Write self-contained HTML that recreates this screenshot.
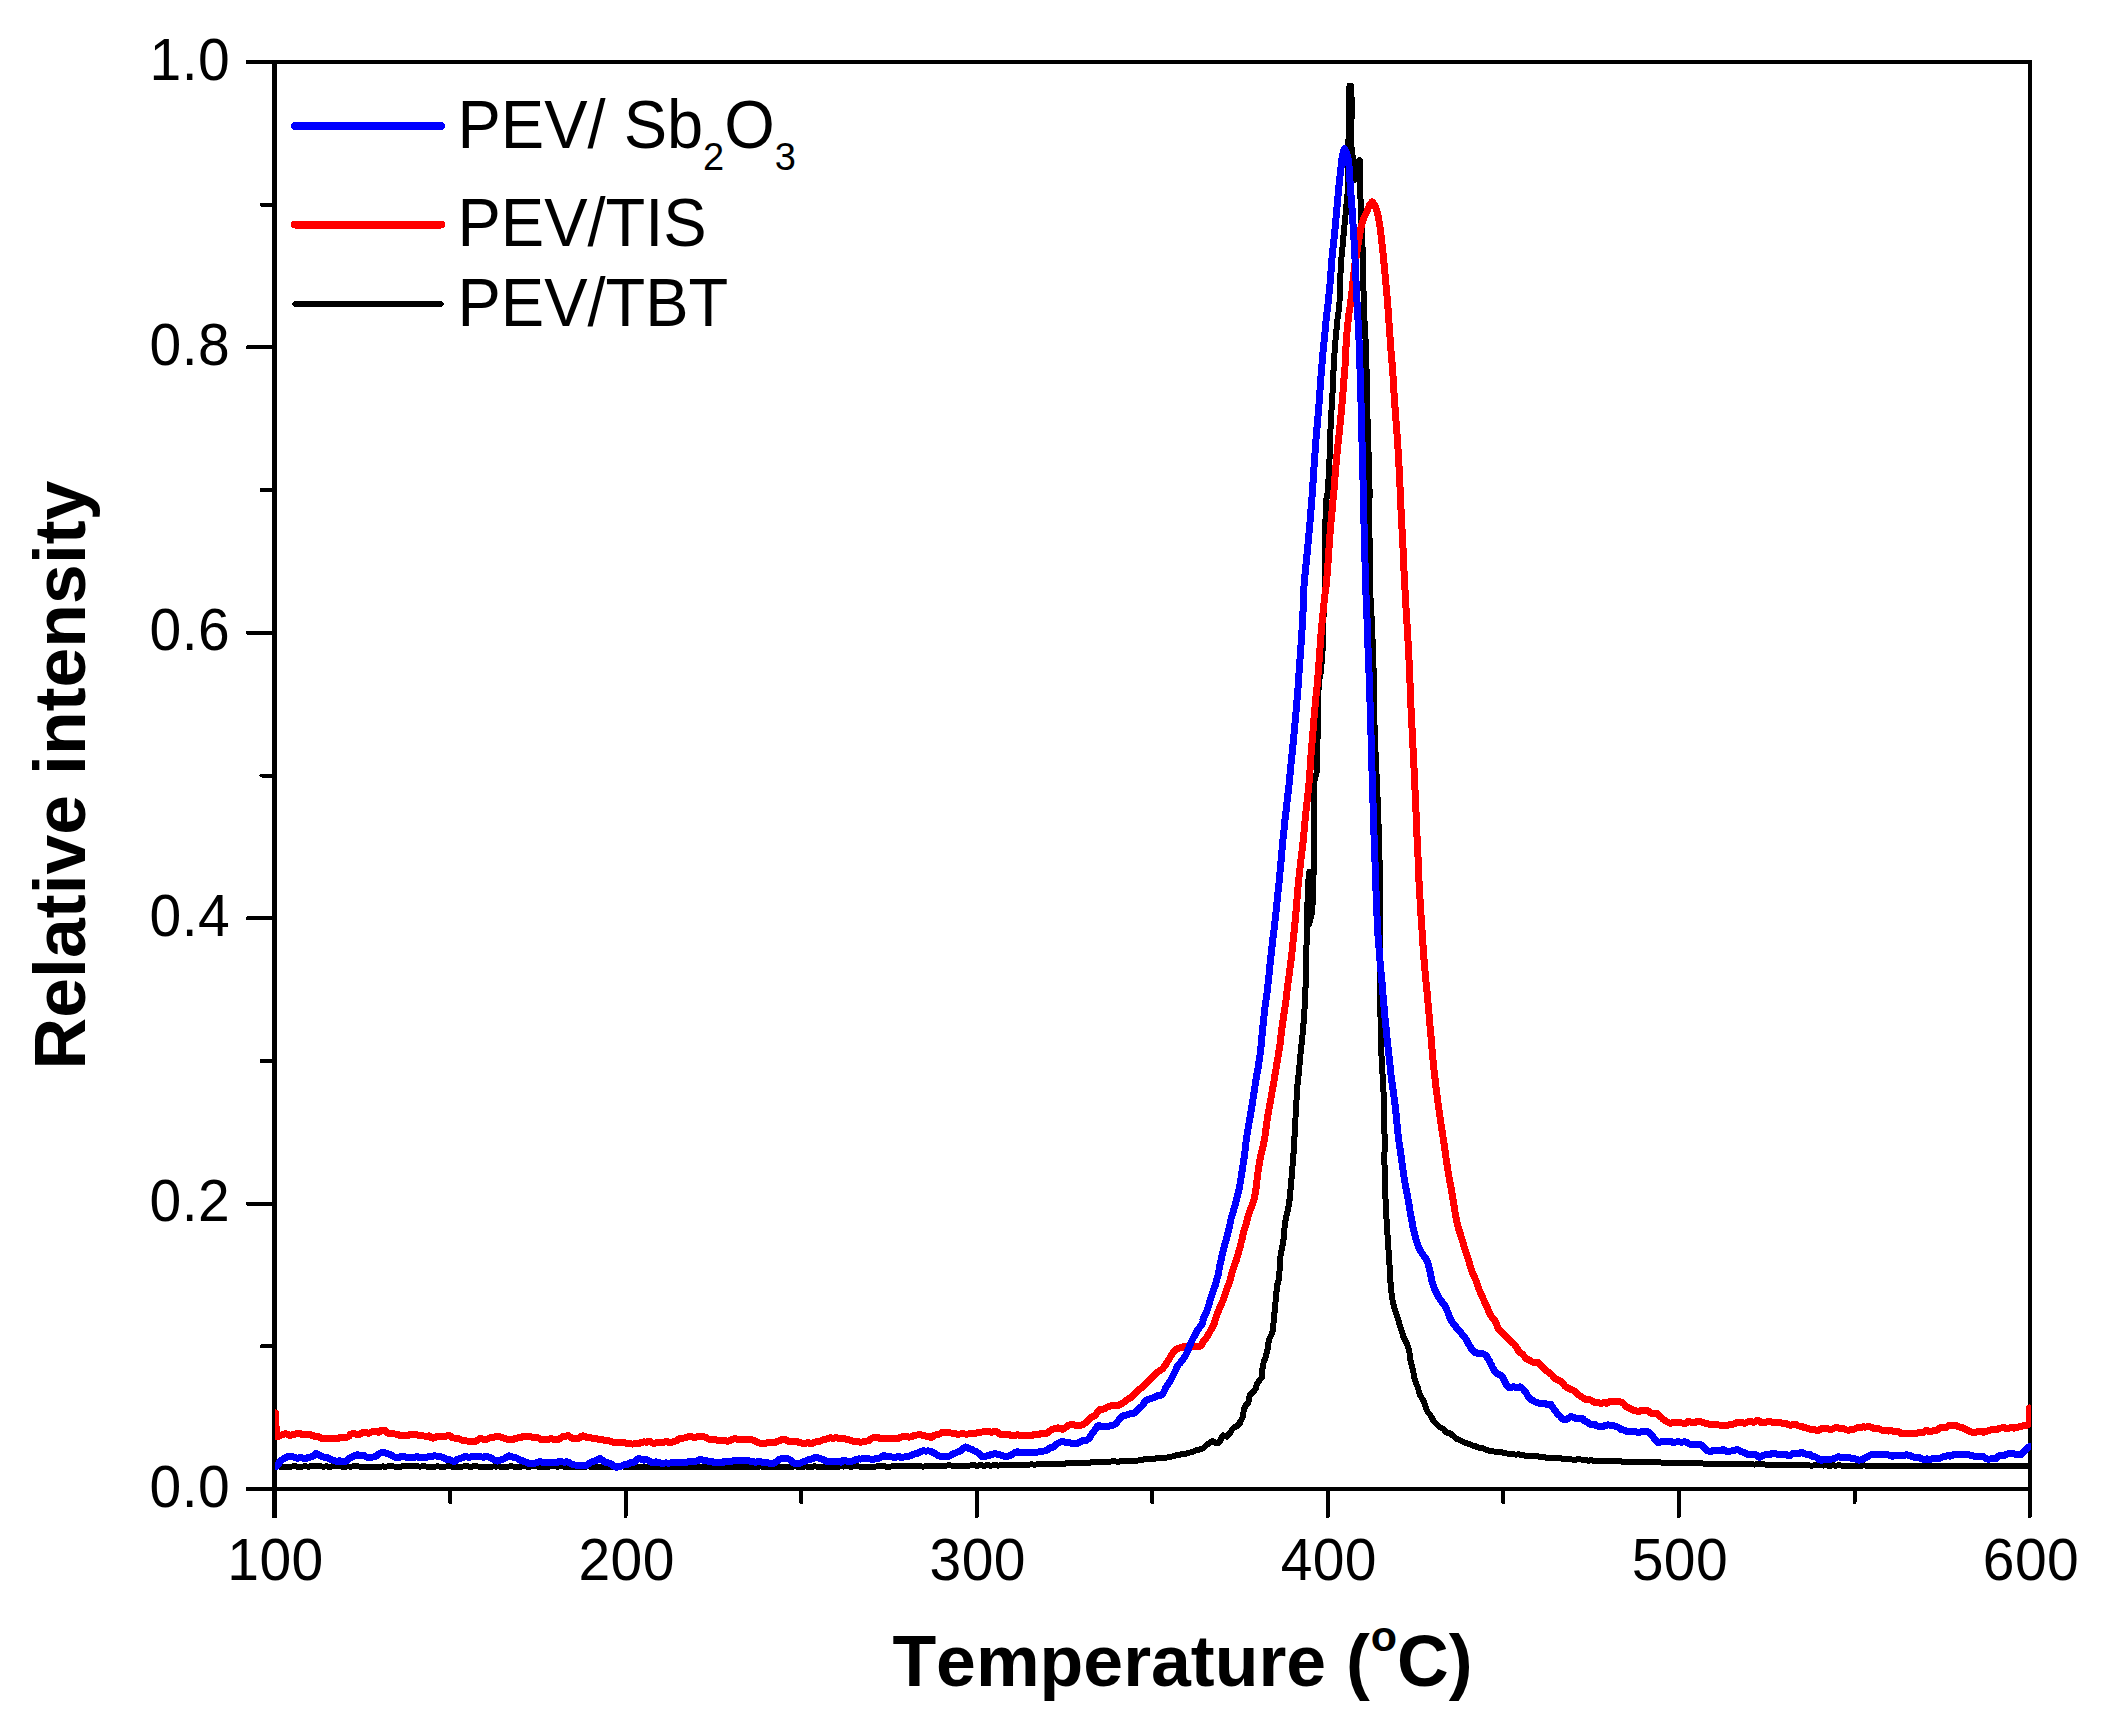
<!DOCTYPE html>
<html lang="en"><head><meta charset="utf-8"><title>Relative intensity vs Temperature</title>
<style>
html,body{margin:0;padding:0;background:#fff;}
body{width:2108px;height:1728px;overflow:hidden;}
svg{display:block;}
</style></head><body>
<svg width="2108" height="1728" viewBox="0 0 2108 1728">
<rect width="2108" height="1728" fill="#fff"/>
<g stroke="#000" stroke-width="4.0" fill="none" stroke-linecap="round" shape-rendering="crispEdges">
<path stroke-width="5" d="M274.5,62.0 V1516.0"/>
<path d="M2030.0,62.0 V1516.0"/>
<path d="M247.5,62.0 H2030.0"/>
<path d="M247.5,1489.0 H2030.0"/>
<path d="M450.1,1489.0 V1502.0"/>
<path d="M625.6,1489.0 V1516.0"/>
<path d="M801.1,1489.0 V1502.0"/>
<path d="M976.7,1489.0 V1516.0"/>
<path d="M1152.2,1489.0 V1502.0"/>
<path d="M1327.8,1489.0 V1516.0"/>
<path d="M1503.3,1489.0 V1502.0"/>
<path d="M1678.9,1489.0 V1516.0"/>
<path d="M1854.5,1489.0 V1502.0"/>
<path d="M274.5,1346.3 H261.5"/>
<path d="M274.5,1203.6 H247.5"/>
<path d="M274.5,1060.9 H261.5"/>
<path d="M274.5,918.2 H247.5"/>
<path d="M274.5,775.5 H261.5"/>
<path d="M274.5,632.8 H247.5"/>
<path d="M274.5,490.1 H261.5"/>
<path d="M274.5,347.4 H247.5"/>
<path d="M274.5,204.7 H261.5"/>
</g>
<clipPath id="plotclip"><rect x="275" y="64" width="1756" height="1423"/></clipPath>
<g fill="none" stroke-linejoin="round" stroke-linecap="round" shape-rendering="crispEdges" clip-path="url(#plotclip)">
<path stroke="#000" stroke-width="6" d="M276.0,1466.4 L277.0,1466.4 L278.0,1466.4 L279.0,1466.4 L280.0,1466.6 L281.0,1466.7 L282.0,1466.8 L283.0,1466.7 L284.0,1466.7 L285.0,1466.7 L286.0,1466.7 L287.0,1466.6 L288.0,1466.5 L289.0,1466.5 L290.0,1466.5 L291.0,1466.6 L292.0,1466.5 L293.0,1466.3 L294.0,1466.2 L295.0,1466.2 L296.0,1466.4 L297.0,1466.6 L298.0,1466.8 L299.0,1466.7 L300.0,1466.7 L301.0,1466.6 L302.0,1466.6 L303.0,1466.5 L304.0,1466.3 L305.0,1466.2 L306.0,1466.3 L307.0,1466.5 L308.0,1466.6 L309.0,1466.6 L310.0,1466.4 L311.0,1466.1 L312.0,1466.0 L313.0,1466.0 L314.0,1466.0 L315.0,1466.0 L316.0,1465.9 L317.0,1466.0 L318.0,1466.2 L319.0,1466.4 L320.0,1466.4 L321.0,1466.4 L322.0,1466.5 L323.0,1466.5 L324.0,1466.6 L325.0,1466.5 L326.0,1466.4 L327.0,1466.4 L328.0,1466.7 L329.0,1466.7 L330.0,1466.8 L331.0,1466.6 L332.0,1466.4 L333.0,1466.4 L334.0,1466.4 L335.0,1466.5 L336.0,1466.4 L337.0,1466.5 L338.0,1466.4 L339.0,1466.5 L340.0,1466.4 L341.0,1466.5 L342.0,1466.6 L343.0,1466.7 L344.0,1466.8 L345.0,1466.7 L346.0,1466.6 L347.0,1466.4 L348.0,1466.4 L349.0,1466.5 L350.0,1466.7 L351.0,1466.7 L352.0,1466.5 L353.0,1466.3 L354.0,1466.2 L355.0,1466.2 L356.0,1466.4 L357.0,1466.4 L358.0,1466.4 L359.0,1466.5 L360.0,1466.6 L361.0,1466.6 L362.0,1466.6 L363.0,1466.6 L364.0,1466.6 L365.0,1466.6 L366.0,1466.6 L367.0,1466.7 L368.0,1466.6 L369.0,1466.6 L370.0,1466.6 L371.0,1466.7 L372.0,1466.6 L373.0,1466.6 L374.0,1466.6 L375.0,1466.6 L376.0,1466.6 L377.0,1466.5 L378.0,1466.5 L379.0,1466.6 L380.0,1466.7 L381.0,1466.7 L382.0,1466.5 L383.0,1466.4 L384.0,1466.6 L385.0,1466.6 L386.0,1466.7 L387.0,1466.5 L388.0,1466.4 L389.0,1466.3 L390.0,1466.2 L391.0,1466.2 L392.0,1466.2 L393.0,1466.4 L394.0,1466.5 L395.0,1466.6 L396.0,1466.5 L397.0,1466.5 L398.0,1466.6 L399.0,1466.6 L400.0,1466.7 L401.0,1466.6 L402.0,1466.4 L403.0,1466.4 L404.0,1466.4 L405.0,1466.4 L406.0,1466.5 L407.0,1466.4 L408.0,1466.4 L409.0,1466.4 L410.0,1466.3 L411.0,1466.3 L412.0,1466.2 L413.0,1466.2 L414.0,1466.2 L415.0,1466.2 L416.0,1466.2 L417.0,1466.4 L418.0,1466.4 L419.0,1466.5 L420.0,1466.5 L421.0,1466.5 L422.0,1466.4 L423.0,1466.3 L424.0,1466.3 L425.0,1466.4 L426.0,1466.5 L427.0,1466.6 L428.0,1466.7 L429.0,1466.7 L430.0,1466.8 L431.0,1466.9 L432.0,1467.0 L433.0,1466.8 L434.0,1466.8 L435.0,1466.6 L436.0,1466.5 L437.0,1466.4 L438.0,1466.4 L439.0,1466.5 L440.0,1466.6 L441.0,1466.7 L442.0,1466.8 L443.0,1466.8 L444.0,1466.7 L445.0,1466.6 L446.0,1466.5 L447.0,1466.4 L448.0,1466.2 L449.0,1466.1 L450.0,1466.3 L451.0,1466.5 L452.0,1466.6 L453.0,1466.7 L454.0,1466.6 L455.0,1466.8 L456.0,1467.0 L457.0,1467.2 L458.0,1467.0 L459.0,1466.9 L460.0,1466.7 L461.0,1466.8 L462.0,1466.6 L463.0,1466.5 L464.0,1466.4 L465.0,1466.3 L466.0,1466.2 L467.0,1466.3 L468.0,1466.4 L469.0,1466.7 L470.0,1466.8 L471.0,1466.7 L472.0,1466.6 L473.0,1466.4 L474.0,1466.3 L475.0,1466.2 L476.0,1466.3 L477.0,1466.4 L478.0,1466.5 L479.0,1466.5 L480.0,1466.5 L481.0,1466.5 L482.0,1466.7 L483.0,1466.9 L484.0,1467.0 L485.0,1466.9 L486.0,1466.8 L487.0,1466.7 L488.0,1466.8 L489.0,1466.9 L490.0,1466.9 L491.0,1466.9 L492.0,1466.6 L493.0,1466.5 L494.0,1466.4 L495.0,1466.5 L496.0,1466.5 L497.0,1466.5 L498.0,1466.4 L499.0,1466.5 L500.0,1466.6 L501.0,1466.8 L502.0,1466.8 L503.0,1466.8 L504.0,1466.6 L505.0,1466.6 L506.0,1466.7 L507.0,1466.8 L508.0,1466.7 L509.0,1466.5 L510.0,1466.2 L511.0,1466.3 L512.0,1466.3 L513.0,1466.5 L514.0,1466.6 L515.0,1466.7 L516.0,1466.6 L517.0,1466.5 L518.0,1466.6 L519.0,1466.6 L520.0,1466.7 L521.0,1466.6 L522.0,1466.4 L523.0,1466.2 L524.0,1466.2 L525.0,1466.3 L526.0,1466.5 L527.0,1466.7 L528.0,1466.7 L529.0,1466.7 L530.0,1466.6 L531.0,1466.5 L532.0,1466.4 L533.0,1466.3 L534.0,1466.1 L535.0,1466.2 L536.0,1466.4 L537.0,1466.5 L538.0,1466.5 L539.0,1466.5 L540.0,1466.6 L541.0,1466.6 L542.0,1466.6 L543.0,1466.7 L544.0,1466.7 L545.0,1466.6 L546.0,1466.5 L547.0,1466.5 L548.0,1466.6 L549.0,1466.6 L550.0,1466.5 L551.0,1466.3 L552.0,1466.3 L553.0,1466.3 L554.0,1466.3 L555.0,1466.3 L556.0,1466.5 L557.0,1466.7 L558.0,1466.7 L559.0,1466.5 L560.0,1466.4 L561.0,1466.3 L562.0,1466.4 L563.0,1466.5 L564.0,1466.6 L565.0,1466.8 L566.0,1466.8 L567.0,1466.7 L568.0,1466.5 L569.0,1466.5 L570.0,1466.6 L571.0,1466.7 L572.0,1466.8 L573.0,1466.8 L574.0,1466.8 L575.0,1466.5 L576.0,1466.5 L577.0,1466.5 L578.0,1466.7 L579.0,1466.7 L580.0,1466.6 L581.0,1466.5 L582.0,1466.5 L583.0,1466.6 L584.0,1466.7 L585.0,1466.8 L586.0,1466.7 L587.0,1466.5 L588.0,1466.4 L589.0,1466.5 L590.0,1466.6 L591.0,1466.8 L592.0,1466.9 L593.0,1467.0 L594.0,1467.1 L595.0,1467.2 L596.0,1467.2 L597.0,1467.0 L598.0,1466.8 L599.0,1466.5 L600.0,1466.6 L601.0,1466.7 L602.0,1466.9 L603.0,1467.0 L604.0,1466.9 L605.0,1466.8 L606.0,1466.6 L607.0,1466.6 L608.0,1466.7 L609.0,1466.7 L610.0,1466.8 L611.0,1466.9 L612.0,1467.1 L613.0,1467.2 L614.0,1467.2 L615.0,1467.0 L616.0,1466.7 L617.0,1466.5 L618.0,1466.3 L619.0,1466.3 L620.0,1466.2 L621.0,1466.2 L622.0,1466.3 L623.0,1466.5 L624.0,1466.7 L625.0,1466.7 L626.0,1466.7 L627.0,1466.7 L628.0,1466.7 L629.0,1466.7 L630.0,1466.7 L631.0,1466.7 L632.0,1466.7 L633.0,1466.8 L634.0,1467.0 L635.0,1467.1 L636.0,1467.0 L637.0,1466.8 L638.0,1466.6 L639.0,1466.5 L640.0,1466.5 L641.0,1466.5 L642.0,1466.5 L643.0,1466.6 L644.0,1466.6 L645.0,1466.7 L646.0,1466.8 L647.0,1466.8 L648.0,1466.9 L649.0,1466.8 L650.0,1466.8 L651.0,1466.8 L652.0,1467.0 L653.0,1467.1 L654.0,1467.1 L655.0,1467.0 L656.0,1467.0 L657.0,1467.1 L658.0,1467.0 L659.0,1466.9 L660.0,1466.9 L661.0,1466.9 L662.0,1467.2 L663.0,1467.3 L664.0,1467.4 L665.0,1467.3 L666.0,1467.2 L667.0,1467.1 L668.0,1467.1 L669.0,1467.1 L670.0,1467.0 L671.0,1466.8 L672.0,1466.8 L673.0,1466.9 L674.0,1467.0 L675.0,1467.0 L676.0,1467.1 L677.0,1467.1 L678.0,1467.0 L679.0,1466.7 L680.0,1466.6 L681.0,1466.8 L682.0,1467.1 L683.0,1467.3 L684.0,1467.3 L685.0,1467.1 L686.0,1466.8 L687.0,1466.6 L688.0,1466.6 L689.0,1466.7 L690.0,1466.9 L691.0,1466.9 L692.0,1467.0 L693.0,1467.0 L694.0,1466.8 L695.0,1466.8 L696.0,1466.8 L697.0,1466.9 L698.0,1466.8 L699.0,1466.9 L700.0,1466.8 L701.0,1466.8 L702.0,1466.8 L703.0,1466.8 L704.0,1466.8 L705.0,1466.9 L706.0,1467.0 L707.0,1467.1 L708.0,1467.0 L709.0,1466.8 L710.0,1466.6 L711.0,1466.5 L712.0,1466.5 L713.0,1466.6 L714.0,1466.7 L715.0,1466.7 L716.0,1466.7 L717.0,1466.8 L718.0,1466.8 L719.0,1466.9 L720.0,1466.8 L721.0,1466.8 L722.0,1466.8 L723.0,1466.8 L724.0,1466.7 L725.0,1466.8 L726.0,1466.7 L727.0,1466.8 L728.0,1466.9 L729.0,1467.2 L730.0,1467.2 L731.0,1467.2 L732.0,1467.0 L733.0,1467.0 L734.0,1467.0 L735.0,1467.0 L736.0,1467.1 L737.0,1467.0 L738.0,1466.9 L739.0,1466.8 L740.0,1466.9 L741.0,1467.1 L742.0,1467.1 L743.0,1467.1 L744.0,1466.9 L745.0,1466.7 L746.0,1466.6 L747.0,1466.6 L748.0,1466.6 L749.0,1466.6 L750.0,1466.6 L751.0,1466.7 L752.0,1466.8 L753.0,1466.9 L754.0,1466.9 L755.0,1466.9 L756.0,1467.0 L757.0,1467.0 L758.0,1466.8 L759.0,1466.6 L760.0,1466.4 L761.0,1466.5 L762.0,1466.8 L763.0,1467.1 L764.0,1467.2 L765.0,1467.1 L766.0,1466.9 L767.0,1466.7 L768.0,1466.5 L769.0,1466.6 L770.0,1466.6 L771.0,1466.9 L772.0,1467.1 L773.0,1467.2 L774.0,1467.0 L775.0,1466.8 L776.0,1466.6 L777.0,1466.7 L778.0,1467.0 L779.0,1467.1 L780.0,1467.2 L781.0,1467.1 L782.0,1467.0 L783.0,1467.0 L784.0,1467.0 L785.0,1467.0 L786.0,1466.9 L787.0,1466.9 L788.0,1466.8 L789.0,1466.9 L790.0,1466.8 L791.0,1466.7 L792.0,1466.6 L793.0,1466.6 L794.0,1466.5 L795.0,1466.4 L796.0,1466.5 L797.0,1466.6 L798.0,1466.7 L799.0,1466.6 L800.0,1466.6 L801.0,1466.7 L802.0,1466.8 L803.0,1466.8 L804.0,1466.6 L805.0,1466.4 L806.0,1466.5 L807.0,1466.6 L808.0,1466.7 L809.0,1466.7 L810.0,1466.7 L811.0,1466.8 L812.0,1466.8 L813.0,1466.6 L814.0,1466.3 L815.0,1466.3 L816.0,1466.5 L817.0,1466.8 L818.0,1466.8 L819.0,1466.7 L820.0,1466.6 L821.0,1466.6 L822.0,1466.7 L823.0,1466.8 L824.0,1467.0 L825.0,1467.0 L826.0,1466.9 L827.0,1466.8 L828.0,1466.7 L829.0,1466.6 L830.0,1466.6 L831.0,1466.6 L832.0,1466.7 L833.0,1466.8 L834.0,1466.9 L835.0,1466.9 L836.0,1466.7 L837.0,1466.6 L838.0,1466.5 L839.0,1466.5 L840.0,1466.5 L841.0,1466.4 L842.0,1466.4 L843.0,1466.5 L844.0,1466.5 L845.0,1466.4 L846.0,1466.3 L847.0,1466.2 L848.0,1466.3 L849.0,1466.5 L850.0,1466.6 L851.0,1466.6 L852.0,1466.6 L853.0,1466.5 L854.0,1466.4 L855.0,1466.3 L856.0,1466.3 L857.0,1466.3 L858.0,1466.4 L859.0,1466.5 L860.0,1466.6 L861.0,1466.5 L862.0,1466.6 L863.0,1466.5 L864.0,1466.7 L865.0,1466.7 L866.0,1466.8 L867.0,1466.8 L868.0,1466.8 L869.0,1466.6 L870.0,1466.5 L871.0,1466.5 L872.0,1466.6 L873.0,1466.7 L874.0,1466.7 L875.0,1466.6 L876.0,1466.5 L877.0,1466.4 L878.0,1466.2 L879.0,1466.1 L880.0,1465.9 L881.0,1466.0 L882.0,1466.0 L883.0,1466.0 L884.0,1466.1 L885.0,1466.4 L886.0,1466.6 L887.0,1466.7 L888.0,1466.7 L889.0,1466.6 L890.0,1466.6 L891.0,1466.5 L892.0,1466.4 L893.0,1466.2 L894.0,1466.3 L895.0,1466.4 L896.0,1466.5 L897.0,1466.4 L898.0,1466.3 L899.0,1466.3 L900.0,1466.2 L901.0,1466.2 L902.0,1466.2 L903.0,1466.2 L904.0,1466.0 L905.0,1465.8 L906.0,1465.8 L907.0,1466.0 L908.0,1466.1 L909.0,1466.0 L910.0,1466.0 L911.0,1466.1 L912.0,1466.2 L913.0,1466.1 L914.0,1466.1 L915.0,1466.1 L916.0,1466.3 L917.0,1466.2 L918.0,1466.2 L919.0,1466.0 L920.0,1466.1 L921.0,1466.3 L922.0,1466.5 L923.0,1466.5 L924.0,1466.5 L925.0,1466.4 L926.0,1466.3 L927.0,1466.2 L928.0,1466.0 L929.0,1465.8 L930.0,1465.6 L931.0,1465.7 L932.0,1465.9 L933.0,1466.1 L934.0,1466.1 L935.0,1466.2 L936.0,1466.2 L937.0,1466.4 L938.0,1466.4 L939.0,1466.4 L940.0,1466.2 L941.0,1466.0 L942.0,1465.8 L943.0,1465.7 L944.0,1465.8 L945.0,1465.8 L946.0,1465.8 L947.0,1465.5 L948.0,1465.2 L949.0,1465.1 L950.0,1465.3 L951.0,1465.5 L952.0,1465.7 L953.0,1465.7 L954.0,1465.8 L955.0,1465.9 L956.0,1466.0 L957.0,1465.9 L958.0,1465.8 L959.0,1465.7 L960.0,1465.7 L961.0,1465.8 L962.0,1465.8 L963.0,1465.7 L964.0,1465.6 L965.0,1465.6 L966.0,1465.7 L967.0,1465.8 L968.0,1465.8 L969.0,1465.7 L970.0,1465.5 L971.0,1465.4 L972.0,1465.4 L973.0,1465.3 L974.0,1465.4 L975.0,1465.4 L976.0,1465.6 L977.0,1465.6 L978.0,1465.6 L979.0,1465.4 L980.0,1465.2 L981.0,1465.3 L982.0,1465.4 L983.0,1465.6 L984.0,1465.7 L985.0,1465.6 L986.0,1465.4 L987.0,1465.2 L988.0,1465.3 L989.0,1465.4 L990.0,1465.6 L991.0,1465.6 L992.0,1465.5 L993.0,1465.3 L994.0,1465.2 L995.0,1465.1 L996.0,1465.3 L997.0,1465.4 L998.0,1465.6 L999.0,1465.5 L1000.0,1465.3 L1001.0,1465.0 L1002.0,1465.0 L1003.0,1465.1 L1004.0,1465.3 L1005.0,1465.4 L1006.0,1465.1 L1007.0,1464.9 L1008.0,1464.7 L1009.0,1464.9 L1010.0,1465.0 L1011.0,1465.1 L1012.0,1465.0 L1013.0,1464.8 L1014.0,1464.8 L1015.0,1464.9 L1016.0,1465.0 L1017.0,1464.8 L1018.0,1464.8 L1019.0,1464.8 L1020.0,1464.8 L1021.0,1464.7 L1022.0,1464.7 L1023.0,1464.7 L1024.0,1464.7 L1025.0,1464.6 L1026.0,1464.6 L1027.0,1464.7 L1028.0,1464.8 L1029.0,1464.6 L1030.0,1464.5 L1031.0,1464.3 L1032.0,1464.4 L1033.0,1464.5 L1034.0,1464.5 L1035.0,1464.5 L1036.0,1464.5 L1037.0,1464.4 L1038.0,1464.3 L1039.0,1464.2 L1040.0,1464.2 L1041.0,1464.2 L1042.0,1464.2 L1043.0,1464.2 L1044.0,1464.1 L1045.0,1464.1 L1046.0,1464.0 L1047.0,1464.1 L1048.0,1464.0 L1049.0,1464.0 L1050.0,1463.8 L1051.0,1463.8 L1052.0,1463.8 L1053.0,1464.0 L1054.0,1463.9 L1055.0,1463.8 L1056.0,1463.7 L1057.0,1463.8 L1058.0,1463.8 L1059.0,1463.8 L1060.0,1463.7 L1061.0,1463.7 L1062.0,1463.8 L1063.0,1463.8 L1064.0,1463.7 L1065.0,1463.6 L1066.0,1463.4 L1067.0,1463.4 L1068.0,1463.3 L1069.0,1463.0 L1070.0,1462.8 L1071.0,1462.9 L1072.0,1463.0 L1073.0,1463.2 L1074.0,1463.3 L1075.0,1463.2 L1076.0,1463.1 L1077.0,1463.1 L1078.0,1463.1 L1079.0,1463.0 L1080.0,1462.8 L1081.0,1462.6 L1082.0,1462.6 L1083.0,1462.7 L1084.0,1462.6 L1085.0,1462.5 L1086.0,1462.6 L1087.0,1462.7 L1088.0,1462.9 L1089.0,1462.8 L1090.0,1462.6 L1091.0,1462.3 L1092.0,1462.3 L1093.0,1462.3 L1094.0,1462.4 L1095.0,1462.3 L1096.0,1462.2 L1097.0,1462.0 L1098.0,1462.0 L1099.0,1462.0 L1100.0,1462.0 L1101.0,1462.0 L1102.0,1462.0 L1103.0,1462.0 L1104.0,1462.0 L1105.0,1462.0 L1105.5,1462.1 L1106.0,1462.0 L1107.0,1461.9 L1108.0,1461.7 L1109.0,1461.7 L1110.0,1461.5 L1111.0,1461.5 L1112.0,1461.4 L1113.0,1461.3 L1114.0,1461.3 L1115.0,1461.3 L1116.0,1461.5 L1117.0,1461.6 L1118.0,1461.5 L1119.0,1461.6 L1120.0,1461.4 L1121.0,1461.3 L1122.0,1461.1 L1123.0,1461.1 L1124.0,1461.0 L1125.0,1461.1 L1126.0,1461.1 L1127.0,1461.1 L1128.0,1461.0 L1129.0,1460.9 L1130.0,1460.7 L1131.0,1460.6 L1132.0,1460.6 L1133.0,1460.8 L1134.0,1460.8 L1135.0,1460.7 L1135.9,1460.5 L1136.0,1460.6 L1137.0,1460.6 L1138.0,1460.5 L1139.0,1460.2 L1140.0,1460.1 L1141.0,1459.9 L1142.0,1459.8 L1143.0,1459.6 L1144.0,1459.4 L1145.0,1459.3 L1146.0,1459.1 L1147.0,1459.0 L1148.0,1459.1 L1149.0,1459.1 L1150.0,1459.3 L1151.0,1459.2 L1152.0,1459.1 L1153.0,1458.9 L1154.0,1458.9 L1155.0,1458.8 L1156.0,1458.5 L1156.9,1457.9 L1157.9,1457.6 L1158.9,1457.7 L1160.0,1458.0 L1161.0,1458.0 L1162.0,1457.9 L1163.0,1457.7 L1164.0,1457.7 L1165.0,1457.6 L1166.0,1457.6 L1166.3,1457.5 L1167.1,1457.5 L1168.0,1457.3 L1169.0,1457.1 L1170.0,1456.8 L1171.0,1456.6 L1172.0,1456.5 L1173.0,1456.3 L1174.0,1456.0 L1175.0,1455.6 L1176.0,1455.4 L1177.0,1455.1 L1178.0,1455.0 L1179.0,1454.8 L1180.0,1454.6 L1181.0,1454.4 L1182.0,1454.1 L1183.0,1453.8 L1184.0,1453.5 L1184.5,1453.6 L1185.1,1453.6 L1186.1,1453.6 L1187.0,1453.2 L1188.0,1452.9 L1189.0,1452.6 L1190.0,1452.5 L1191.1,1452.4 L1192.1,1452.1 L1193.1,1451.8 L1194.0,1451.3 L1194.9,1450.8 L1195.9,1450.4 L1196.6,1450.4 L1197.1,1450.5 L1198.1,1450.3 L1199.1,1449.8 L1200.1,1449.2 L1201.2,1448.9 L1202.3,1448.6 L1203.3,1448.1 L1204.3,1447.4 L1205.1,1446.5 L1205.7,1445.9 L1205.9,1445.6 L1206.9,1444.8 L1208.0,1443.9 L1209.2,1443.1 L1210.3,1442.5 L1211.2,1442.0 L1211.8,1441.5 L1212.0,1441.4 L1213.1,1441.3 L1214.1,1441.7 L1215.0,1442.3 L1215.9,1442.9 L1216.9,1443.2 L1217.9,1443.2 L1218.1,1443.3 L1219.4,1442.3 L1220.4,1440.4 L1221.2,1438.2 L1222.2,1436.4 L1223.0,1435.4 L1223.2,1435.4 L1224.0,1435.5 L1224.9,1436.1 L1226.1,1436.4 L1227.0,1436.6 L1227.0,1436.3 L1227.5,1435.7 L1228.3,1434.8 L1229.7,1433.7 L1230.6,1432.0 L1231.6,1430.4 L1232.6,1428.9 L1232.6,1428.8 L1233.6,1427.8 L1234.7,1427.0 L1236.0,1426.5 L1237.4,1425.9 L1238.7,1425.1 L1239.6,1423.8 L1239.3,1423.3 L1240.1,1421.8 L1241.2,1420.0 L1242.5,1418.0 L1243.4,1415.7 L1243.1,1415.4 L1243.5,1412.2 L1244.3,1408.5 L1245.9,1405.3 L1247.4,1403.7 L1248.0,1403.3 L1248.6,1401.3 L1248.8,1399.2 L1249.1,1397.2 L1249.7,1395.5 L1250.1,1395.1 L1251.1,1394.1 L1252.4,1392.6 L1253.8,1391.2 L1255.1,1389.7 L1256.1,1387.9 L1256.2,1386.5 L1256.4,1385.6 L1257.2,1383.6 L1258.6,1381.8 L1259.9,1379.8 L1261.8,1377.5 L1262.5,1374.8 L1262.3,1374.3 L1262.3,1369.6 L1263.3,1364.0 L1264.4,1359.3 L1265.0,1359.1 L1266.2,1354.9 L1267.2,1351.0 L1268.1,1347.1 L1268.3,1344.1 L1268.4,1343.0 L1269.1,1339.3 L1271.0,1335.8 L1272.5,1331.7 L1273.4,1329.2 L1273.3,1326.4 L1273.7,1319.8 L1274.6,1311.7 L1275.0,1306.2 L1275.7,1300.2 L1277.2,1284.4 L1278.1,1283.6 L1279.2,1275.3 L1279.7,1268.1 L1280.3,1261.5 L1280.0,1260.7 L1280.6,1255.2 L1281.6,1249.8 L1282.8,1244.1 L1283.8,1237.9 L1283.9,1237.2 L1284.6,1226.6 L1286.1,1216.5 L1286.6,1215.2 L1287.6,1211.3 L1288.2,1207.8 L1288.9,1204.4 L1289.6,1199.9 L1289.4,1199.8 L1290.2,1193.1 L1291.0,1184.4 L1291.9,1174.0 L1292.8,1162.1 L1293.9,1148.9 L1294.8,1131.0 L1296.0,1108.4 L1297.3,1086.5 L1298.7,1074.0 L1299.0,1070.8 L1300.0,1060.2 L1300.7,1051.4 L1301.8,1042.1 L1302.4,1036.5 L1303.0,1030.2 L1304.1,1016.1 L1305.1,999.0 L1306.1,971.5 L1306.7,934.3 L1307.6,898.6 L1308.7,875.4 L1309.3,872.0 L1309.2,924.0 L1312.2,912.5 L1313.4,882.8 L1314.0,842.0 L1314.0,787.0 L1314.0,784.2 L1315.0,777.8 L1316.2,775.1 L1316.8,771.0 L1317.0,767.0 L1317.2,754.5 L1318.1,708.9 L1318.4,692.0 L1318.8,683.4 L1320.6,673.0 L1322.4,654.5 L1323.5,617.0 L1324.0,607.7 L1324.8,598.3 L1324.9,592.0 L1324.6,582.5 L1324.7,557.7 L1325.1,528.4 L1326.4,498.9 L1327.7,492.0 L1329.1,470.1 L1330.2,440.5 L1330.7,422.5 L1331.1,417.7 L1332.0,401.6 L1332.8,388.3 L1333.3,375.2 L1334.0,359.9 L1335.5,340.1 L1337.5,319.1 L1338.8,310.1 L1339.5,302.1 L1339.9,287.0 L1340.5,273.1 L1341.2,260.2 L1342.4,248.1 L1343.4,236.5 L1343.9,232.0 L1344.4,225.8 L1345.4,216.3 L1346.1,209.0 L1346.4,205.7 L1347.5,193.8 L1347.5,186.0 L1348.0,175.9 L1348.4,145.0 L1349.5,85.9 L1351.0,85.9 L1351.8,104.0 L1351.7,116.0 L1350.8,128.8 L1351.2,145.1 L1351.7,149.0 L1352.8,157.1 L1352.8,159.7 L1353.7,175.3 L1354.8,179.8 L1356.4,179.0 L1357.2,174.0 L1357.7,167.0 L1358.7,161.4 L1359.7,160.3 L1359.6,169.0 L1360.0,186.0 L1361.3,220.0 L1362.9,256.2 L1363.5,270.0 L1363.4,281.1 L1363.6,299.5 L1363.9,310.0 L1364.6,322.5 L1366.2,351.8 L1366.3,360.0 L1367.0,389.2 L1367.1,410.0 L1368.0,430.2 L1369.0,471.0 L1369.6,492.0 L1369.3,514.1 L1369.7,559.8 L1370.0,592.0 L1370.9,601.9 L1372.5,638.3 L1373.7,673.5 L1373.8,692.0 L1374.0,711.0 L1375.4,749.6 L1377.3,792.0 L1378.9,833.9 L1380.1,885.9 L1380.0,924.0 L1380.2,999.0 L1381.1,1048.3 L1382.5,1074.0 L1383.3,1084.1 L1384.4,1123.7 L1384.7,1149.0 L1384.3,1156.1 L1384.9,1181.8 L1385.7,1204.0 L1386.8,1224.0 L1388.1,1243.2 L1389.2,1260.6 L1390.1,1274.0 L1390.6,1284.1 L1391.5,1292.9 L1392.6,1300.4 L1394.0,1306.6 L1395.5,1311.4 L1396.8,1315.3 L1398.0,1318.6 L1398.7,1321.5 L1399.5,1324.2 L1400.2,1326.7 L1401.1,1329.1 L1401.9,1331.7 L1402.7,1334.4 L1403.3,1336.6 L1403.8,1337.4 L1405.3,1340.4 L1406.8,1343.5 L1408.1,1346.7 L1408.9,1350.3 L1409.7,1353.9 L1409.7,1355.9 L1410.1,1358.0 L1410.9,1362.3 L1412.0,1366.6 L1412.5,1368.5 L1413.0,1370.3 L1413.7,1373.9 L1414.2,1377.3 L1415.1,1380.6 L1416.3,1383.7 L1417.5,1386.7 L1418.4,1389.6 L1419.2,1392.4 L1420.1,1395.1 L1421.4,1397.5 L1422.2,1398.6 L1423.0,1399.7 L1424.0,1402.1 L1424.8,1404.5 L1425.5,1406.9 L1426.2,1409.2 L1427.4,1411.2 L1428.6,1413.1 L1430.0,1414.7 L1431.0,1416.3 L1431.9,1417.9 L1432.3,1418.7 L1432.7,1419.4 L1433.6,1420.7 L1434.5,1422.0 L1435.4,1423.1 L1436.6,1424.0 L1437.7,1425.0 L1438.6,1426.0 L1439.5,1427.1 L1440.7,1427.7 L1441.9,1428.3 L1443.2,1428.7 L1444.0,1429.7 L1444.8,1430.7 L1445.5,1431.9 L1446.5,1432.6 L1447.1,1432.9 L1447.9,1432.8 L1449.1,1433.2 L1450.3,1433.6 L1451.3,1434.3 L1452.2,1435.0 L1453.1,1435.8 L1454.1,1436.5 L1455.0,1437.3 L1455.8,1438.1 L1456.8,1438.8 L1457.8,1439.4 L1458.9,1439.8 L1460.0,1440.2 L1461.0,1440.7 L1461.9,1441.4 L1463.0,1441.8 L1464.0,1442.3 L1465.0,1442.6 L1466.0,1443.1 L1467.1,1443.4 L1468.2,1443.6 L1469.2,1443.9 L1470.2,1444.3 L1471.1,1444.9 L1472.1,1445.2 L1473.1,1445.6 L1474.1,1445.8 L1475.1,1446.1 L1476.1,1446.5 L1477.0,1447.0 L1478.0,1447.4 L1478.9,1447.8 L1479.9,1448.1 L1481.0,1448.4 L1482.1,1448.2 L1483.1,1448.4 L1484.1,1448.6 L1485.0,1449.3 L1485.9,1449.7 L1486.9,1450.1 L1487.9,1450.3 L1488.9,1450.6 L1489.9,1450.9 L1490.9,1451.1 L1491.9,1451.2 L1492.9,1451.3 L1493.9,1451.5 L1494.9,1451.7 L1495.9,1452.0 L1497.0,1452.0 L1498.0,1451.9 L1499.1,1451.7 L1500.1,1451.8 L1501.0,1452.1 L1502.0,1452.5 L1503.0,1452.8 L1504.0,1453.0 L1505.0,1453.1 L1506.0,1453.4 L1507.0,1453.5 L1508.0,1453.6 L1509.0,1453.7 L1510.0,1454.1 L1510.9,1454.4 L1511.9,1454.5 L1513.0,1454.3 L1514.0,1454.3 L1515.0,1454.5 L1516.0,1454.7 L1517.0,1454.5 L1518.1,1454.2 L1519.1,1454.3 L1520.0,1454.8 L1521.0,1455.2 L1522.0,1455.2 L1523.0,1455.3 L1524.0,1455.4 L1525.0,1455.7 L1526.0,1455.7 L1527.0,1455.7 L1528.0,1455.8 L1529.0,1456.0 L1530.0,1456.3 L1531.0,1456.4 L1532.0,1456.4 L1533.0,1456.2 L1534.0,1456.2 L1535.0,1456.2 L1536.0,1456.3 L1537.0,1456.4 L1538.0,1456.4 L1539.0,1456.6 L1540.0,1456.7 L1541.0,1457.0 L1542.0,1457.0 L1542.5,1457.0 L1543.0,1457.0 L1544.0,1457.1 L1545.0,1457.4 L1546.0,1457.6 L1547.0,1457.9 L1548.0,1457.9 L1549.0,1457.9 L1550.0,1458.0 L1551.0,1457.9 L1552.0,1457.8 L1553.0,1457.5 L1554.0,1457.8 L1555.0,1458.0 L1556.0,1458.3 L1557.0,1458.3 L1558.0,1458.3 L1559.0,1458.2 L1560.0,1458.3 L1561.0,1458.4 L1562.0,1458.6 L1563.0,1458.7 L1564.0,1458.8 L1565.0,1458.8 L1566.0,1458.9 L1567.0,1458.9 L1568.0,1458.9 L1569.0,1458.9 L1570.0,1459.1 L1571.0,1459.3 L1572.0,1459.5 L1573.0,1459.5 L1574.0,1459.7 L1575.0,1459.5 L1576.0,1459.6 L1577.0,1459.2 L1578.0,1459.1 L1579.0,1459.0 L1580.0,1459.2 L1581.0,1459.5 L1582.0,1459.7 L1583.0,1459.8 L1584.0,1459.9 L1585.0,1460.0 L1586.0,1460.3 L1587.0,1460.4 L1588.0,1460.6 L1589.0,1460.6 L1590.0,1460.4 L1591.0,1460.4 L1592.0,1460.4 L1593.0,1460.7 L1594.0,1460.8 L1595.0,1460.8 L1596.0,1460.6 L1597.0,1460.5 L1598.0,1460.5 L1599.0,1460.6 L1600.0,1460.8 L1601.0,1460.9 L1602.0,1460.9 L1603.0,1460.9 L1604.0,1460.8 L1605.0,1460.7 L1606.0,1460.6 L1607.0,1460.8 L1608.0,1461.0 L1609.0,1461.2 L1610.0,1461.3 L1611.0,1461.2 L1612.0,1461.2 L1613.0,1461.1 L1614.0,1461.2 L1615.0,1461.2 L1616.0,1461.3 L1617.0,1461.3 L1618.0,1461.4 L1619.0,1461.3 L1620.0,1461.3 L1621.0,1461.4 L1622.0,1461.6 L1623.0,1461.8 L1624.0,1461.9 L1625.0,1461.9 L1626.0,1461.8 L1627.0,1461.6 L1628.0,1461.6 L1629.0,1461.5 L1630.0,1461.5 L1631.0,1461.6 L1632.0,1461.7 L1633.0,1461.8 L1634.0,1461.8 L1635.0,1461.7 L1636.0,1461.8 L1637.0,1461.9 L1638.0,1462.2 L1639.0,1462.2 L1640.0,1462.2 L1641.0,1462.1 L1642.0,1462.2 L1643.0,1462.0 L1644.0,1461.9 L1645.0,1461.9 L1646.0,1461.8 L1647.0,1461.7 L1648.0,1461.8 L1649.0,1462.1 L1650.0,1462.3 L1651.0,1462.4 L1652.0,1462.4 L1653.0,1462.4 L1654.0,1462.4 L1655.0,1462.3 L1656.0,1462.3 L1657.0,1462.3 L1658.0,1462.3 L1659.0,1462.4 L1660.0,1462.4 L1661.0,1462.5 L1662.0,1462.7 L1663.0,1462.9 L1664.0,1462.9 L1665.0,1462.8 L1666.0,1462.7 L1667.0,1462.7 L1668.0,1462.8 L1669.0,1462.9 L1670.0,1462.9 L1671.0,1462.8 L1672.0,1462.8 L1673.0,1462.8 L1674.0,1462.8 L1675.0,1462.9 L1676.0,1463.0 L1677.0,1463.1 L1678.0,1463.0 L1679.0,1463.0 L1680.0,1462.9 L1681.0,1462.9 L1682.0,1462.9 L1683.0,1462.8 L1684.0,1462.6 L1685.0,1462.6 L1686.0,1462.7 L1687.0,1462.9 L1688.0,1463.1 L1689.0,1463.2 L1690.0,1463.3 L1691.0,1463.3 L1692.0,1463.1 L1693.0,1463.1 L1694.0,1463.3 L1695.0,1463.5 L1696.0,1463.4 L1697.0,1463.3 L1698.0,1463.2 L1699.0,1463.1 L1700.0,1463.1 L1701.0,1463.1 L1702.0,1463.3 L1703.0,1463.5 L1704.0,1463.5 L1705.0,1463.5 L1706.0,1463.6 L1707.0,1463.7 L1708.0,1463.7 L1709.0,1463.6 L1710.0,1463.6 L1711.0,1463.7 L1712.0,1463.7 L1713.0,1463.6 L1714.0,1463.6 L1715.0,1463.5 L1716.0,1463.5 L1717.0,1463.5 L1718.0,1463.5 L1719.0,1463.6 L1720.0,1463.7 L1721.0,1463.9 L1722.0,1464.0 L1723.0,1464.2 L1724.0,1464.2 L1725.0,1464.1 L1726.0,1463.9 L1727.0,1463.8 L1728.0,1463.8 L1729.0,1464.0 L1730.0,1464.2 L1731.0,1464.4 L1732.0,1464.4 L1733.0,1464.3 L1734.0,1464.2 L1735.0,1464.2 L1736.0,1464.2 L1737.0,1464.2 L1738.0,1464.3 L1739.0,1464.3 L1740.0,1464.2 L1741.0,1464.1 L1742.0,1464.1 L1743.0,1464.1 L1744.0,1463.9 L1745.0,1463.7 L1746.0,1463.6 L1747.0,1463.8 L1748.0,1464.0 L1749.0,1464.2 L1750.0,1464.2 L1751.0,1464.1 L1752.0,1464.2 L1753.0,1464.3 L1754.0,1464.5 L1755.0,1464.5 L1756.0,1464.4 L1757.0,1464.3 L1758.0,1464.3 L1759.0,1464.3 L1760.0,1464.3 L1761.0,1464.3 L1762.0,1464.2 L1763.0,1464.2 L1764.0,1464.3 L1765.0,1464.5 L1766.0,1464.8 L1767.0,1464.9 L1768.0,1464.8 L1769.0,1464.7 L1770.0,1464.5 L1771.0,1464.6 L1772.0,1464.7 L1773.0,1464.8 L1774.0,1464.5 L1775.0,1464.5 L1776.0,1464.5 L1777.0,1464.7 L1778.0,1464.7 L1779.0,1464.8 L1780.0,1464.7 L1781.0,1464.7 L1782.0,1464.6 L1783.0,1464.7 L1784.0,1464.7 L1785.0,1464.8 L1786.0,1464.8 L1787.0,1464.8 L1788.0,1464.7 L1789.0,1464.9 L1790.0,1465.1 L1791.0,1465.1 L1792.0,1464.9 L1793.0,1464.7 L1794.0,1464.5 L1795.0,1464.7 L1796.0,1465.0 L1797.0,1465.2 L1798.0,1465.3 L1799.0,1465.3 L1800.0,1465.2 L1801.0,1465.2 L1802.0,1465.3 L1803.0,1465.3 L1804.0,1465.2 L1805.0,1465.2 L1806.0,1465.3 L1807.0,1465.4 L1808.0,1465.4 L1809.0,1465.4 L1810.0,1465.5 L1811.0,1465.7 L1812.0,1465.7 L1813.0,1465.5 L1814.0,1465.2 L1815.0,1464.9 L1816.0,1464.8 L1817.0,1464.9 L1818.0,1465.0 L1819.0,1465.1 L1820.0,1465.1 L1821.0,1465.2 L1822.0,1465.4 L1823.0,1465.5 L1824.0,1465.5 L1825.0,1465.4 L1826.0,1465.4 L1827.0,1465.5 L1828.0,1465.6 L1829.0,1465.6 L1830.0,1465.7 L1831.0,1465.6 L1832.0,1465.5 L1833.0,1465.4 L1834.0,1465.4 L1835.0,1465.6 L1836.0,1465.6 L1837.0,1465.5 L1838.0,1465.2 L1839.0,1465.2 L1840.0,1465.3 L1841.0,1465.5 L1842.0,1465.5 L1843.0,1465.5 L1844.0,1465.5 L1845.0,1465.6 L1846.0,1465.8 L1847.0,1465.8 L1848.0,1465.7 L1849.0,1465.5 L1850.0,1465.5 L1851.0,1465.5 L1852.0,1465.6 L1853.0,1465.7 L1854.0,1465.7 L1855.0,1465.8 L1856.0,1465.9 L1857.0,1465.9 L1858.0,1465.9 L1859.0,1465.9 L1860.0,1466.0 L1861.0,1465.9 L1862.0,1465.7 L1863.0,1465.5 L1864.0,1465.4 L1865.0,1465.5 L1866.0,1465.8 L1867.0,1465.8 L1868.0,1465.7 L1869.0,1465.5 L1870.0,1465.5 L1871.0,1465.7 L1872.0,1465.9 L1873.0,1466.1 L1874.0,1466.1 L1875.0,1466.2 L1876.0,1466.2 L1877.0,1466.2 L1878.0,1466.2 L1879.0,1466.1 L1880.0,1466.1 L1881.0,1466.1 L1882.0,1466.1 L1883.0,1465.9 L1884.0,1465.8 L1885.0,1465.8 L1886.0,1466.0 L1887.0,1466.1 L1888.0,1466.3 L1889.0,1466.2 L1890.0,1466.0 L1891.0,1465.9 L1892.0,1465.8 L1893.0,1465.9 L1894.0,1466.0 L1895.0,1466.2 L1896.0,1466.2 L1897.0,1466.1 L1898.0,1466.2 L1899.0,1466.0 L1900.0,1466.0 L1901.0,1465.9 L1902.0,1465.9 L1903.0,1465.8 L1904.0,1465.9 L1905.0,1465.8 L1906.0,1465.9 L1907.0,1465.9 L1908.0,1466.0 L1909.0,1466.0 L1910.0,1466.1 L1911.0,1466.2 L1912.0,1466.3 L1913.0,1466.2 L1914.0,1466.1 L1915.0,1466.1 L1916.0,1466.0 L1917.0,1465.9 L1918.0,1465.9 L1919.0,1465.9 L1920.0,1465.8 L1921.0,1465.7 L1922.0,1465.6 L1923.0,1465.8 L1924.0,1466.1 L1925.0,1466.2 L1926.0,1466.2 L1927.0,1466.0 L1928.0,1465.8 L1929.0,1465.7 L1930.0,1465.8 L1931.0,1465.9 L1932.0,1466.1 L1933.0,1466.1 L1934.0,1466.1 L1935.0,1466.0 L1936.0,1466.0 L1937.0,1466.0 L1938.0,1466.0 L1939.0,1466.1 L1940.0,1466.1 L1941.0,1466.0 L1942.0,1466.0 L1943.0,1466.0 L1944.0,1466.2 L1945.0,1466.2 L1946.0,1466.2 L1947.0,1466.0 L1948.0,1466.0 L1949.0,1466.1 L1950.0,1466.3 L1951.0,1466.4 L1952.0,1466.3 L1953.0,1466.2 L1954.0,1466.1 L1955.0,1466.1 L1956.0,1466.0 L1957.0,1466.0 L1958.0,1466.0 L1959.0,1466.1 L1960.0,1466.1 L1961.0,1466.2 L1962.0,1466.2 L1963.0,1466.1 L1964.0,1466.0 L1965.0,1465.9 L1966.0,1465.9 L1967.0,1466.0 L1968.0,1466.0 L1969.0,1465.9 L1970.0,1465.8 L1971.0,1465.9 L1972.0,1466.0 L1973.0,1465.9 L1974.0,1465.9 L1975.0,1465.9 L1976.0,1465.9 L1977.0,1465.9 L1978.0,1465.8 L1979.0,1465.6 L1980.0,1465.5 L1981.0,1465.8 L1982.0,1466.1 L1983.0,1466.2 L1984.0,1466.1 L1985.0,1466.0 L1986.0,1466.2 L1987.0,1466.4 L1988.0,1466.5 L1989.0,1466.4 L1990.0,1466.3 L1991.0,1466.1 L1992.0,1465.9 L1993.0,1465.9 L1994.0,1465.9 L1995.0,1466.1 L1996.0,1466.1 L1997.0,1466.2 L1998.0,1466.1 L1999.0,1466.1 L2000.0,1466.0 L2001.0,1466.1 L2002.0,1466.1 L2003.0,1466.1 L2004.0,1465.9 L2005.0,1465.8 L2006.0,1465.7 L2007.0,1465.9 L2008.0,1466.1 L2009.0,1466.2 L2010.0,1466.0 L2011.0,1466.0 L2012.0,1466.0 L2013.0,1466.2 L2014.0,1466.2 L2015.0,1466.1 L2016.0,1466.0 L2017.0,1466.0 L2018.0,1466.0 L2019.0,1465.8 L2020.0,1465.8 L2021.0,1465.9 L2022.0,1466.0 L2023.0,1466.1 L2024.0,1466.0 L2025.0,1465.9 L2026.0,1465.8 L2027.0,1465.9 L2028.0,1465.9 L2029.0,1465.9 L2029.5,1465.8"/>
<path stroke="#f00" stroke-width="7" d="M275.5,1413.0 L276.5,1437.0 L283.8,1434.2 L284.7,1433.9 L285.8,1433.8 L286.8,1434.2 L287.9,1434.6 L289.0,1435.0 L290.0,1435.4 L291.0,1435.2 L292.0,1434.9 L292.9,1434.6 L293.9,1434.3 L294.9,1434.1 L295.9,1433.9 L296.9,1433.6 L297.9,1433.1 L298.9,1433.2 L299.8,1433.3 L299.9,1433.6 L300.9,1434.1 L301.9,1434.1 L302.9,1434.2 L303.9,1434.1 L304.9,1434.1 L306.0,1434.2 L307.0,1434.1 L308.0,1434.2 L309.0,1434.4 L310.0,1434.6 L311.0,1435.0 L312.0,1435.4 L313.0,1435.7 L313.9,1435.9 L314.9,1436.4 L315.9,1436.4 L317.0,1436.5 L318.0,1436.8 L319.0,1436.9 L319.9,1437.4 L320.8,1438.0 L321.8,1438.3 L322.8,1438.5 L323.8,1438.6 L324.9,1438.4 L325.9,1438.4 L326.9,1438.4 L327.9,1438.4 L328.9,1438.5 L329.7,1438.4 L329.9,1438.2 L330.9,1438.1 L331.9,1438.1 L332.9,1438.1 L333.9,1438.4 L335.0,1438.7 L336.0,1438.8 L337.0,1438.8 L338.0,1438.5 L339.0,1437.9 L339.9,1437.4 L340.9,1437.2 L341.9,1437.1 L343.0,1437.1 L344.0,1437.2 L345.0,1437.1 L346.1,1437.1 L347.1,1437.1 L348.1,1436.8 L349.0,1436.2 L349.6,1435.4 L349.8,1434.7 L350.7,1434.2 L351.7,1433.8 L352.7,1433.6 L353.7,1433.6 L354.7,1433.7 L355.8,1434.0 L356.9,1434.3 L358.0,1434.5 L359.0,1434.4 L360.0,1434.1 L360.9,1433.6 L361.8,1432.8 L362.8,1432.4 L363.7,1432.0 L364.8,1432.1 L365.9,1432.5 L367.0,1432.8 L368.1,1433.2 L369.1,1433.1 L370.0,1432.7 L371.0,1432.3 L371.9,1431.8 L372.9,1431.5 L373.9,1431.5 L374.9,1431.4 L375.9,1431.6 L376.9,1431.9 L377.9,1432.2 L378.9,1432.2 L379.5,1431.9 L379.9,1431.2 L381.0,1430.5 L382.1,1430.1 L383.2,1430.1 L384.2,1430.2 L385.2,1430.7 L386.1,1431.5 L387.0,1432.2 L387.9,1433.1 L388.8,1433.6 L389.8,1433.7 L390.9,1433.8 L392.1,1433.7 L393.1,1433.7 L394.1,1433.9 L395.1,1434.0 L396.1,1434.2 L397.0,1434.6 L398.0,1434.6 L398.9,1434.9 L399.5,1435.2 L399.9,1435.3 L400.9,1435.5 L401.9,1435.6 L402.9,1435.4 L403.9,1435.5 L404.9,1435.5 L405.9,1435.5 L406.9,1435.6 L407.9,1435.3 L408.9,1435.1 L409.9,1434.7 L410.9,1434.4 L411.9,1434.4 L412.9,1434.5 L413.9,1434.7 L414.9,1434.6 L415.9,1434.8 L416.9,1434.8 L417.9,1435.1 L418.9,1435.4 L419.4,1435.7 L419.9,1435.9 L420.8,1435.8 L421.8,1435.8 L422.9,1435.8 L424.0,1436.0 L425.0,1436.3 L426.1,1436.4 L427.1,1436.4 L428.1,1436.1 L429.0,1435.8 L429.4,1436.1 L429.9,1436.7 L430.9,1437.4 L432.1,1437.9 L433.2,1438.1 L434.2,1437.9 L435.2,1437.5 L436.1,1437.0 L437.0,1436.5 L438.0,1436.2 L438.9,1436.0 L439.3,1436.0 L439.9,1436.4 L440.9,1436.6 L441.8,1436.7 L442.8,1436.6 L443.9,1436.3 L444.9,1436.2 L445.9,1436.1 L447.0,1435.8 L448.1,1435.5 L449.2,1435.6 L450.1,1436.0 L451.0,1436.7 L451.9,1437.5 L452.9,1437.9 L453.9,1438.0 L454.9,1438.2 L456.0,1438.2 L457.0,1438.3 L458.0,1438.5 L459.0,1438.7 L460.0,1439.2 L460.9,1439.7 L461.9,1440.1 L462.8,1440.5 L463.9,1440.5 L464.9,1440.8 L465.9,1440.9 L466.9,1441.0 L467.9,1441.2 L468.9,1441.2 L469.2,1441.3 L469.9,1441.4 L470.9,1441.5 L472.0,1441.5 L473.0,1441.6 L474.0,1441.4 L475.0,1441.2 L476.0,1441.1 L477.0,1440.4 L477.9,1439.8 L478.8,1439.2 L479.8,1438.6 L480.8,1438.7 L481.9,1438.9 L482.9,1439.2 L484.0,1439.5 L485.0,1439.6 L486.1,1439.5 L487.0,1439.2 L488.0,1438.7 L488.9,1438.3 L489.9,1438.0 L490.9,1437.7 L491.9,1437.7 L492.9,1437.2 L493.9,1437.1 L494.9,1436.9 L495.9,1436.7 L496.9,1436.9 L497.9,1436.8 L498.9,1436.8 L499.1,1436.8 L499.9,1436.8 L500.9,1437.2 L501.9,1437.5 L502.9,1437.9 L503.8,1438.2 L504.8,1438.4 L505.8,1438.9 L506.8,1439.2 L507.8,1439.4 L508.8,1439.5 L509.9,1439.6 L510.9,1439.8 L511.0,1439.8 L511.9,1439.9 L513.0,1439.6 L513.9,1439.2 L514.9,1438.7 L515.9,1438.4 L516.9,1438.1 L517.8,1437.9 L518.9,1437.9 L519.9,1437.7 L520.9,1437.4 L521.9,1437.2 L522.9,1436.7 L523.9,1436.6 L524.9,1436.7 L525.9,1436.7 L526.9,1436.9 L527.0,1436.9 L527.9,1436.7 L528.9,1436.6 L529.9,1436.5 L530.9,1436.8 L531.9,1437.1 L532.8,1437.6 L533.8,1437.8 L534.9,1437.8 L535.9,1437.7 L537.0,1437.6 L538.0,1437.8 L539.0,1438.3 L539.9,1438.7 L540.8,1439.3 L541.8,1439.7 L542.8,1439.8 L543.9,1439.8 L544.9,1439.6 L546.0,1439.3 L547.0,1439.3 L547.9,1439.2 L548.9,1439.2 L548.9,1439.1 L549.9,1438.9 L550.8,1438.8 L551.8,1438.9 L552.8,1439.2 L553.9,1439.5 L555.0,1439.6 L556.0,1439.5 L557.0,1439.4 L558.0,1439.3 L559.0,1439.1 L559.9,1438.6 L560.9,1438.0 L561.8,1437.3 L562.7,1436.7 L563.7,1436.5 L564.8,1436.4 L565.8,1436.1 L566.8,1435.8 L567.9,1435.7 L568.8,1435.6 L568.9,1436.0 L569.9,1436.7 L570.9,1437.3 L571.9,1438.0 L572.9,1438.4 L573.9,1438.6 L574.9,1438.7 L575.9,1438.7 L576.9,1438.8 L577.9,1438.6 L578.9,1438.1 L579.9,1437.4 L580.9,1436.6 L581.9,1436.0 L582.9,1435.9 L583.9,1436.0 L584.9,1436.6 L585.9,1437.3 L586.9,1437.7 L587.9,1438.0 L588.7,1437.8 L588.9,1437.6 L589.9,1437.6 L590.9,1437.8 L591.8,1438.1 L592.8,1438.4 L593.8,1438.5 L594.8,1438.5 L595.8,1438.5 L596.8,1438.7 L597.8,1439.1 L598.7,1439.4 L599.7,1439.5 L600.8,1439.6 L601.8,1439.7 L602.9,1439.7 L603.8,1440.1 L604.8,1440.3 L605.8,1440.5 L606.9,1440.6 L607.9,1440.6 L608.7,1440.6 L608.9,1440.7 L609.8,1441.2 L610.8,1441.5 L611.8,1441.9 L612.7,1442.2 L613.8,1442.2 L614.8,1442.4 L615.8,1442.5 L616.9,1442.5 L617.9,1442.5 L619.0,1442.3 L620.1,1442.1 L621.1,1442.2 L622.1,1442.3 L623.1,1442.5 L624.0,1442.8 L625.0,1442.9 L626.0,1443.2 L626.9,1443.4 L627.9,1443.4 L628.6,1443.4 L628.9,1443.4 L629.9,1443.5 L630.9,1443.7 L631.9,1444.0 L632.9,1444.0 L633.9,1443.8 L634.9,1443.8 L635.9,1443.6 L637.0,1443.6 L638.0,1443.4 L639.0,1443.3 L640.0,1443.2 L640.9,1442.7 L641.9,1442.4 L642.9,1442.0 L643.9,1441.8 L644.9,1442.0 L645.9,1442.2 L646.9,1442.2 L647.9,1441.7 L648.5,1441.4 L648.9,1441.2 L649.9,1441.5 L650.9,1442.2 L651.9,1442.8 L652.9,1443.2 L653.9,1443.3 L654.9,1443.2 L655.9,1442.9 L656.9,1442.6 L657.9,1442.7 L658.9,1442.6 L659.9,1442.6 L660.9,1442.7 L661.9,1442.5 L662.9,1442.3 L663.9,1442.2 L664.9,1441.8 L665.9,1441.6 L666.9,1441.6 L667.9,1441.7 L668.4,1442.1 L668.9,1442.6 L670.0,1442.7 L671.0,1442.4 L672.0,1442.2 L673.1,1441.8 L674.1,1441.4 L675.2,1441.2 L676.1,1440.8 L676.6,1440.6 L677.1,1440.3 L678.0,1439.6 L678.9,1438.9 L679.8,1438.3 L679.9,1438.3 L680.9,1438.3 L681.9,1438.1 L682.9,1438.2 L683.9,1438.0 L684.9,1437.9 L685.9,1437.7 L686.9,1437.3 L687.9,1436.9 L688.9,1436.6 L689.9,1436.5 L690.9,1436.6 L691.9,1437.0 L692.9,1437.2 L693.9,1437.5 L694.9,1437.5 L695.9,1437.2 L695.9,1437.1 L696.9,1436.8 L697.9,1436.6 L698.9,1436.7 L699.9,1436.8 L700.9,1436.9 L701.9,1437.0 L703.0,1436.8 L704.0,1436.8 L705.0,1437.0 L705.9,1437.6 L706.9,1438.2 L707.8,1438.8 L708.8,1439.1 L709.8,1439.0 L710.9,1439.0 L711.9,1439.0 L712.9,1439.2 L713.9,1439.5 L714.9,1439.6 L715.9,1440.0 L716.9,1440.2 L717.8,1440.5 L718.8,1440.8 L719.9,1440.6 L720.9,1440.5 L721.9,1440.2 L722.9,1440.0 L723.8,1440.1 L723.9,1440.2 L724.9,1440.6 L726.0,1441.0 L727.0,1441.1 L728.0,1441.2 L729.1,1441.0 L730.0,1440.6 L731.0,1440.2 L731.9,1439.7 L732.9,1439.2 L733.9,1438.9 L734.9,1438.8 L735.9,1438.9 L737.0,1439.1 L737.9,1439.2 L738.9,1439.1 L739.8,1439.1 L739.9,1439.1 L740.9,1439.5 L741.8,1439.8 L742.8,1439.9 L743.8,1439.9 L744.8,1439.7 L745.9,1439.5 L746.9,1439.4 L748.0,1439.5 L749.0,1439.6 L750.1,1439.5 L751.1,1439.6 L752.1,1439.8 L753.1,1440.1 L754.1,1440.6 L755.0,1441.1 L755.9,1441.5 L756.9,1442.1 L757.8,1442.5 L758.8,1442.9 L759.8,1443.2 L760.8,1443.4 L761.8,1443.4 L762.9,1443.5 L763.9,1443.5 L764.9,1443.4 L765.7,1443.3 L765.9,1443.2 L766.9,1443.0 L767.9,1442.7 L768.8,1442.4 L769.8,1442.2 L770.8,1442.3 L772.0,1442.7 L773.1,1442.9 L774.2,1442.8 L775.2,1442.5 L776.1,1441.9 L777.0,1441.5 L778.0,1441.1 L779.0,1440.8 L780.0,1440.5 L780.9,1439.9 L781.9,1439.6 L782.9,1439.3 L783.9,1439.2 L784.9,1439.5 L785.6,1439.5 L785.9,1440.1 L786.9,1440.6 L787.8,1441.0 L788.7,1441.4 L789.7,1441.5 L790.7,1441.4 L791.7,1441.3 L792.8,1441.1 L793.8,1441.1 L794.9,1441.1 L795.9,1441.2 L796.9,1441.6 L797.8,1442.0 L798.8,1442.4 L799.8,1442.7 L800.8,1442.8 L801.8,1443.0 L802.8,1443.2 L803.8,1443.3 L804.9,1443.4 L805.9,1443.3 L806.9,1443.0 L807.5,1442.7 L807.9,1442.7 L808.9,1442.9 L809.9,1443.3 L811.0,1443.6 L812.0,1443.5 L813.0,1443.1 L813.9,1442.6 L814.9,1442.2 L815.9,1441.9 L816.9,1442.0 L817.9,1441.8 L819.0,1441.7 L820.0,1441.3 L820.9,1440.8 L821.8,1440.3 L822.8,1439.9 L823.8,1439.6 L824.8,1439.3 L825.8,1439.3 L826.8,1439.0 L827.8,1438.6 L828.8,1438.4 L829.8,1437.9 L830.8,1437.8 L831.3,1437.9 L831.9,1438.1 L832.9,1438.2 L833.9,1438.1 L834.9,1438.0 L835.9,1437.7 L836.9,1437.9 L837.9,1438.1 L839.0,1438.3 L839.9,1438.5 L840.9,1438.1 L841.4,1438.1 L841.9,1438.1 L842.8,1438.3 L843.7,1438.7 L844.7,1438.9 L845.7,1439.1 L846.8,1439.2 L847.9,1439.3 L848.9,1439.7 L850.0,1440.1 L851.0,1440.4 L851.9,1440.9 L853.0,1441.0 L853.9,1441.4 L854.9,1441.7 L855.3,1441.8 L855.9,1441.9 L856.9,1441.8 L857.9,1441.9 L859.0,1441.9 L860.0,1442.2 L861.1,1442.2 L862.1,1442.0 L863.1,1441.9 L864.1,1441.5 L865.1,1441.3 L866.1,1441.2 L867.1,1441.0 L868.1,1440.8 L869.1,1440.3 L870.0,1439.6 L870.9,1439.0 L871.8,1438.3 L872.7,1437.8 L873.7,1437.5 L874.7,1437.1 L875.8,1437.1 L876.8,1437.2 L877.9,1437.5 L878.9,1438.0 L879.3,1438.3 L879.9,1438.7 L880.9,1438.8 L881.9,1438.9 L882.9,1438.7 L883.9,1438.4 L884.9,1438.3 L885.9,1438.2 L886.9,1438.3 L887.9,1438.4 L888.9,1438.4 L889.9,1438.5 L890.9,1438.4 L891.9,1438.5 L892.9,1438.5 L893.9,1438.6 L894.9,1438.8 L895.9,1438.9 L896.9,1438.9 L897.9,1438.7 L898.9,1438.2 L899.2,1437.7 L899.9,1437.4 L900.9,1437.1 L901.9,1436.9 L902.9,1436.9 L903.8,1436.6 L904.8,1436.2 L905.8,1436.3 L906.9,1436.4 L908.0,1436.7 L909.1,1437.1 L910.2,1437.0 L911.1,1436.7 L912.1,1436.4 L913.0,1436.0 L914.0,1435.7 L915.0,1435.4 L916.0,1435.2 L916.9,1435.0 L917.9,1434.8 L918.9,1434.7 L919.1,1434.7 L919.9,1434.8 L920.9,1434.9 L921.9,1435.1 L922.9,1435.4 L923.9,1435.6 L924.9,1436.0 L925.9,1436.1 L927.0,1436.1 L927.9,1436.3 L928.9,1436.4 L929.1,1436.8 L930.0,1437.3 L931.0,1437.3 L932.1,1437.2 L933.0,1436.4 L933.9,1435.7 L934.9,1435.2 L935.8,1434.8 L937.0,1434.8 L938.0,1434.6 L939.0,1434.2 L940.0,1433.8 L940.9,1433.1 L941.8,1432.7 L942.8,1432.4 L943.9,1432.4 L944.9,1432.5 L945.0,1432.6 L945.9,1432.8 L946.9,1432.7 L947.9,1432.7 L948.9,1432.7 L950.0,1432.7 L950.9,1433.0 L951.9,1433.1 L952.9,1433.4 L953.9,1433.5 L954.9,1433.6 L955.9,1433.9 L956.9,1434.1 L957.9,1434.2 L958.9,1434.3 L960.0,1434.0 L961.0,1433.8 L961.9,1433.6 L962.9,1433.6 L962.9,1433.7 L963.9,1433.8 L964.9,1434.0 L965.9,1434.0 L966.9,1434.0 L967.9,1434.0 L968.9,1433.8 L969.9,1433.6 L970.9,1433.6 L972.0,1433.5 L973.1,1433.7 L974.1,1433.6 L975.1,1433.4 L976.0,1433.1 L977.0,1432.9 L978.0,1432.7 L978.9,1432.7 L978.9,1432.5 L979.9,1432.3 L980.9,1432.2 L981.9,1432.0 L982.9,1431.9 L983.9,1431.8 L984.9,1431.6 L985.9,1431.4 L986.9,1431.3 L987.9,1431.1 L988.8,1431.0 L988.9,1431.4 L989.9,1431.7 L990.9,1432.0 L991.9,1432.3 L992.9,1431.9 L994.0,1431.7 L995.1,1431.4 L996.2,1431.5 L997.1,1432.0 L998.0,1432.7 L998.9,1433.4 L999.8,1434.0 L1000.8,1434.5 L1001.8,1434.7 L1002.8,1434.7 L1003.9,1434.8 L1004.9,1434.8 L1005.9,1434.7 L1007.0,1434.5 L1008.0,1434.4 L1008.8,1434.3 L1008.9,1434.7 L1009.9,1435.2 L1010.9,1435.5 L1011.9,1435.7 L1012.9,1435.7 L1013.9,1435.6 L1014.9,1435.4 L1015.9,1435.1 L1016.9,1434.8 L1017.9,1434.9 L1018.9,1435.2 L1019.9,1435.7 L1020.9,1436.0 L1021.9,1435.8 L1022.9,1435.4 L1023.9,1435.1 L1024.9,1435.1 L1025.9,1435.5 L1026.9,1435.7 L1027.9,1435.7 L1028.9,1435.5 L1029.9,1435.0 L1030.7,1435.0 L1030.9,1435.2 L1031.9,1435.1 L1032.9,1435.2 L1033.8,1434.7 L1034.8,1434.5 L1035.8,1434.6 L1036.9,1434.7 L1037.9,1434.8 L1038.9,1434.6 L1039.8,1434.3 L1040.8,1433.7 L1041.7,1433.3 L1042.7,1433.1 L1043.8,1433.3 L1044.6,1433.5 L1045.0,1433.8 L1046.2,1433.8 L1047.1,1433.0 L1048.1,1432.3 L1049.1,1431.6 L1050.0,1430.8 L1051.1,1430.2 L1052.0,1429.5 L1053.0,1429.1 L1053.9,1428.8 L1054.6,1428.8 L1054.9,1428.6 L1055.9,1428.3 L1057.0,1428.1 L1058.0,1427.9 L1059.0,1428.2 L1060.0,1428.5 L1060.9,1428.9 L1061.9,1429.2 L1062.9,1429.1 L1063.0,1429.1 L1063.9,1428.9 L1064.8,1428.1 L1066.0,1427.2 L1067.1,1426.3 L1068.1,1425.4 L1069.0,1425.3 L1069.1,1425.0 L1069.9,1424.8 L1070.9,1424.7 L1072.0,1424.6 L1073.0,1424.7 L1074.1,1424.9 L1075.0,1425.2 L1076.0,1425.5 L1077.0,1425.7 L1077.9,1425.6 L1078.2,1425.3 L1078.8,1425.3 L1079.7,1425.2 L1080.7,1425.1 L1081.9,1425.0 L1083.0,1424.6 L1084.0,1423.9 L1085.0,1423.1 L1085.9,1422.2 L1087.0,1421.5 L1088.0,1420.7 L1089.0,1419.9 L1089.9,1418.9 L1090.2,1418.4 L1090.7,1417.9 L1091.8,1417.2 L1093.0,1416.5 L1094.3,1415.8 L1095.4,1414.9 L1096.3,1413.9 L1097.1,1412.8 L1097.8,1411.5 L1098.6,1410.4 L1099.6,1409.6 L1100.7,1409.1 L1100.9,1409.4 L1102.0,1409.4 L1103.1,1409.2 L1104.1,1408.9 L1105.0,1408.4 L1105.9,1407.8 L1106.9,1407.3 L1107.8,1406.9 L1108.8,1406.5 L1109.8,1406.1 L1110.0,1406.2 L1110.8,1405.9 L1111.9,1405.9 L1113.0,1405.8 L1114.0,1405.7 L1115.1,1405.8 L1116.1,1405.7 L1117.2,1405.7 L1118.2,1405.5 L1119.2,1405.0 L1120.1,1404.7 L1121.0,1403.9 L1122.0,1403.4 L1122.9,1402.8 L1123.8,1402.3 L1124.8,1401.9 L1125.1,1401.6 L1125.7,1401.1 L1126.5,1400.4 L1127.4,1399.6 L1128.4,1398.9 L1129.6,1398.2 L1130.8,1397.5 L1131.9,1396.6 L1132.9,1395.6 L1133.9,1394.7 L1134.9,1393.7 L1135.9,1392.7 L1135.9,1392.8 L1136.8,1391.7 L1137.7,1390.7 L1138.8,1390.0 L1139.9,1389.0 L1141.0,1388.2 L1142.1,1387.4 L1143.2,1386.5 L1144.2,1385.6 L1145.2,1384.6 L1146.2,1383.7 L1147.1,1382.6 L1148.1,1381.6 L1149.0,1380.6 L1150.0,1379.6 L1151.0,1378.7 L1151.2,1378.5 L1152.1,1377.7 L1153.0,1376.8 L1154.0,1375.8 L1154.9,1374.8 L1155.7,1373.8 L1156.6,1372.8 L1157.7,1371.9 L1158.9,1371.2 L1160.0,1370.5 L1161.2,1369.7 L1162.3,1368.8 L1163.3,1367.8 L1164.2,1366.7 L1165.1,1365.5 L1165.8,1364.2 L1166.0,1363.7 L1166.5,1362.9 L1167.4,1361.5 L1168.6,1360.1 L1169.5,1358.5 L1170.4,1356.8 L1171.5,1355.2 L1172.5,1353.6 L1173.6,1352.1 L1174.8,1350.9 L1175.8,1349.8 L1177.0,1348.9 L1178.0,1348.5 L1178.5,1348.2 L1179.0,1348.2 L1180.0,1347.8 L1181.0,1347.5 L1182.0,1347.4 L1183.0,1347.1 L1183.9,1346.7 L1184.9,1346.4 L1185.9,1346.2 L1186.0,1346.0 L1186.9,1346.1 L1187.9,1346.1 L1189.0,1346.0 L1190.0,1346.3 L1190.9,1346.6 L1191.9,1346.8 L1192.9,1347.0 L1193.9,1346.8 L1194.9,1346.5 L1195.9,1346.3 L1196.6,1346.4 L1196.9,1346.7 L1197.9,1346.9 L1199.1,1346.8 L1200.2,1346.1 L1201.4,1345.2 L1202.1,1343.9 L1202.8,1342.5 L1203.6,1341.2 L1203.6,1340.7 L1204.5,1340.0 L1205.6,1338.8 L1206.7,1337.2 L1207.8,1335.5 L1208.8,1333.6 L1209.9,1331.7 L1211.1,1329.7 L1212.3,1327.6 L1213.4,1325.6 L1213.8,1324.7 L1214.2,1323.4 L1214.9,1321.0 L1215.7,1318.6 L1216.5,1316.2 L1217.3,1313.6 L1218.3,1311.1 L1219.3,1308.6 L1220.4,1306.1 L1220.6,1306.1 L1221.7,1303.6 L1222.8,1300.9 L1223.8,1298.2 L1224.7,1295.4 L1225.7,1292.5 L1226.6,1289.6 L1227.7,1286.7 L1228.5,1285.0 L1229.0,1283.8 L1230.0,1280.8 L1230.8,1277.6 L1231.6,1274.4 L1232.5,1271.2 L1233.5,1268.0 L1234.7,1264.7 L1235.8,1261.3 L1236.2,1260.7 L1237.0,1257.8 L1238.1,1254.1 L1239.2,1250.3 L1240.2,1246.4 L1241.1,1242.6 L1242.1,1238.9 L1242.2,1237.9 L1242.8,1235.4 L1243.7,1232.1 L1244.6,1228.8 L1245.6,1225.6 L1246.5,1222.4 L1247.4,1219.2 L1247.6,1218.0 L1248.3,1215.8 L1249.3,1212.6 L1250.4,1209.5 L1251.7,1206.2 L1252.9,1202.6 L1253.8,1200.1 L1254.3,1198.5 L1255.2,1193.8 L1256.0,1188.6 L1256.7,1182.9 L1257.4,1176.9 L1258.2,1170.8 L1259.1,1164.6 L1260.2,1158.5 L1261.4,1152.4 L1262.4,1149.0 L1263.1,1146.6 L1264.2,1140.8 L1265.2,1135.0 L1265.9,1129.1 L1266.7,1123.1 L1267.6,1117.2 L1268.6,1111.3 L1269.7,1105.3 L1270.8,1099.3 L1271.8,1093.2 L1272.9,1087.1 L1274.0,1080.9 L1275.0,1074.6 L1275.2,1074.0 L1276.1,1068.3 L1277.1,1062.1 L1278.2,1055.8 L1279.2,1049.5 L1280.2,1043.2 L1280.9,1036.7 L1281.7,1030.0 L1282.6,1023.3 L1283.6,1016.3 L1284.7,1009.1 L1285.8,1001.6 L1286.1,999.0 L1286.7,993.7 L1287.7,985.4 L1288.9,976.6 L1290.1,967.5 L1291.3,958.2 L1292.4,948.7 L1293.3,939.2 L1294.3,929.6 L1294.9,924.0 L1295.2,920.2 L1296.1,910.8 L1296.8,901.5 L1297.6,892.1 L1298.4,882.7 L1299.4,873.3 L1300.5,863.8 L1301.6,854.2 L1302.8,844.5 L1303.8,834.6 L1304.7,824.5 L1305.7,814.2 L1306.8,803.7 L1308.0,793.0 L1308.2,792.0 L1309.1,781.8 L1310.0,770.1 L1310.8,758.0 L1311.8,745.6 L1312.9,733.0 L1313.8,720.5 L1314.9,708.1 L1316.0,696.0 L1316.5,692.0 L1317.3,684.3 L1318.2,672.7 L1319.1,661.2 L1319.9,649.8 L1320.7,638.4 L1321.6,627.1 L1322.7,615.8 L1323.9,604.4 L1325.1,593.1 L1325.5,592.0 L1326.5,581.6 L1327.5,570.1 L1328.3,558.6 L1329.1,547.1 L1329.9,535.6 L1330.8,524.1 L1331.9,512.7 L1332.9,501.4 L1333.8,492.0 L1334.0,490.2 L1334.8,479.2 L1335.7,468.3 L1336.7,457.5 L1337.7,446.8 L1338.9,436.0 L1340.0,425.0 L1341.1,413.9 L1341.4,410.0 L1342.2,402.4 L1343.1,390.6 L1344.0,378.7 L1345.0,366.8 L1345.3,360.0 L1345.4,355.3 L1346.2,343.7 L1347.0,332.2 L1348.1,321.2 L1349.3,310.8 L1349.6,310.0 L1350.8,301.1 L1351.9,291.7 L1352.9,282.5 L1353.8,274.0 L1354.7,266.0 L1355.5,260.0 L1355.8,258.9 L1356.9,252.2 L1357.9,245.6 L1358.9,239.4 L1359.9,233.8 L1360.8,228.7 L1361.7,224.5 L1362.3,222.4 L1362.6,221.2 L1363.7,218.6 L1364.6,216.3 L1365.6,214.3 L1366.6,212.3 L1367.4,210.3 L1367.5,210.1 L1368.5,207.5 L1369.6,205.1 L1370.1,204.4 L1370.8,203.3 L1371.9,202.0 L1372.3,201.9 L1372.9,202.2 L1373.8,203.9 L1374.3,204.5 L1374.9,205.7 L1375.8,208.0 L1376.7,210.5 L1376.7,210.9 L1377.7,214.2 L1378.6,218.4 L1379.3,222.6 L1379.5,223.5 L1380.5,230.4 L1381.5,239.1 L1382.6,248.9 L1383.6,259.1 L1383.7,260.0 L1384.6,269.6 L1385.6,281.0 L1386.8,293.0 L1387.7,305.6 L1388.2,310.0 L1388.7,318.8 L1389.7,332.9 L1390.8,347.5 L1391.6,360.0 L1392.0,362.3 L1393.1,377.3 L1394.0,392.7 L1395.1,408.5 L1395.2,410.0 L1396.3,424.9 L1397.6,441.8 L1398.6,459.1 L1399.6,476.8 L1400.2,492.0 L1400.3,494.9 L1401.2,513.3 L1402.2,532.2 L1403.2,551.3 L1404.0,570.7 L1405.0,590.2 L1405.1,592.0 L1406.1,609.9 L1407.4,629.8 L1408.5,649.9 L1409.5,670.1 L1410.3,690.2 L1410.3,692.0 L1411.1,710.1 L1412.1,729.9 L1413.1,749.8 L1414.1,769.8 L1415.0,790.1 L1415.1,792.0 L1416.0,811.5 L1416.9,834.1 L1418.0,857.1 L1418.9,879.6 L1420.1,900.3 L1421.2,918.5 L1421.6,924.0 L1422.3,933.7 L1423.1,947.2 L1424.0,959.5 L1425.0,970.9 L1426.0,981.8 L1427.1,992.6 L1427.6,999.0 L1428.1,1003.4 L1429.0,1014.2 L1429.9,1024.9 L1430.9,1035.2 L1431.7,1045.3 L1432.5,1055.0 L1433.5,1064.4 L1434.3,1073.3 L1434.5,1074.1 L1435.4,1081.8 L1436.3,1090.1 L1437.4,1098.1 L1438.4,1105.9 L1439.5,1113.4 L1440.6,1120.7 L1441.6,1127.9 L1442.7,1134.9 L1443.8,1141.7 L1444.7,1148.4 L1444.8,1149.0 L1445.6,1155.1 L1446.5,1161.7 L1447.6,1168.3 L1448.6,1174.9 L1449.8,1181.3 L1451.0,1187.6 L1452.1,1193.8 L1453.1,1199.8 L1454.0,1205.6 L1454.9,1211.2 L1455.8,1216.5 L1456.8,1221.4 L1457.9,1226.0 L1459.0,1230.2 L1459.2,1230.3 L1460.3,1233.9 L1461.3,1237.4 L1462.4,1240.5 L1463.2,1243.6 L1464.1,1246.6 L1465.1,1249.7 L1465.2,1250.0 L1466.2,1252.9 L1467.2,1256.1 L1468.2,1259.3 L1469.2,1262.5 L1470.1,1265.7 L1471.2,1268.7 L1472.2,1271.7 L1473.2,1274.6 L1474.0,1275.7 L1474.5,1277.2 L1475.6,1279.8 L1476.6,1282.4 L1477.4,1285.0 L1478.3,1287.5 L1479.3,1290.0 L1480.3,1292.3 L1481.3,1294.7 L1482.3,1296.9 L1483.3,1299.1 L1484.3,1301.3 L1485.2,1303.0 L1485.3,1303.4 L1486.3,1305.5 L1487.2,1307.5 L1488.0,1309.6 L1488.8,1311.6 L1489.6,1313.6 L1490.8,1315.4 L1492.0,1317.0 L1493.2,1318.6 L1494.4,1320.0 L1495.1,1321.1 L1495.3,1321.6 L1496.1,1323.2 L1496.7,1324.9 L1497.4,1326.5 L1498.1,1328.1 L1499.0,1329.5 L1500.1,1330.7 L1501.2,1331.8 L1502.5,1332.8 L1503.7,1333.8 L1504.8,1334.9 L1505.9,1336.0 L1506.7,1337.2 L1507.7,1338.3 L1508.8,1339.4 L1509.8,1340.6 L1510.5,1341.2 L1511.0,1341.5 L1512.2,1342.5 L1513.4,1343.5 L1514.7,1344.6 L1515.6,1345.9 L1516.5,1347.3 L1517.3,1348.6 L1518.0,1350.1 L1519.1,1351.3 L1520.2,1352.4 L1521.3,1353.4 L1522.6,1354.3 L1523.5,1355.4 L1524.4,1356.5 L1525.1,1357.6 L1526.0,1358.6 L1527.1,1359.2 L1528.2,1359.6 L1529.3,1359.8 L1529.9,1360.1 L1530.1,1360.5 L1531.0,1361.1 L1531.9,1361.8 L1532.9,1362.1 L1533.9,1362.1 L1534.9,1362.1 L1536.1,1362.0 L1537.1,1362.2 L1538.2,1362.5 L1538.2,1362.5 L1539.2,1363.4 L1540.1,1364.2 L1540.9,1365.4 L1541.7,1366.6 L1542.7,1367.6 L1543.7,1368.7 L1544.9,1369.6 L1546.0,1370.5 L1547.1,1371.3 L1547.2,1371.3 L1548.1,1372.0 L1549.1,1372.8 L1550.1,1373.5 L1551.1,1374.2 L1552.0,1375.0 L1552.8,1376.0 L1553.6,1377.0 L1554.4,1377.9 L1555.3,1378.8 L1556.3,1379.4 L1557.5,1379.8 L1558.6,1380.3 L1559.8,1380.6 L1561.0,1381.1 L1562.0,1381.9 L1562.1,1382.2 L1562.7,1383.1 L1563.4,1384.2 L1564.2,1385.2 L1565.1,1386.2 L1566.1,1387.0 L1567.2,1387.8 L1568.4,1388.4 L1569.7,1388.9 L1571.0,1389.5 L1572.3,1389.9 L1573.5,1390.5 L1574.5,1391.2 L1575.4,1392.0 L1576.3,1392.9 L1577.1,1393.7 L1577.5,1394.1 L1578.0,1394.5 L1578.9,1395.1 L1579.9,1395.8 L1580.8,1396.5 L1581.8,1397.1 L1582.8,1397.7 L1583.7,1398.3 L1584.8,1398.7 L1585.7,1399.3 L1586.8,1399.6 L1587.9,1399.8 L1589.0,1400.0 L1590.1,1399.9 L1591.1,1400.2 L1592.0,1400.7 L1592.5,1401.2 L1592.8,1401.8 L1593.8,1402.1 L1594.8,1402.2 L1595.8,1402.2 L1596.9,1402.2 L1597.9,1402.4 L1598.8,1402.8 L1599.8,1403.1 L1600.8,1403.4 L1601.9,1403.2 L1602.9,1402.9 L1603.9,1402.6 L1604.7,1402.4 L1604.9,1402.7 L1605.9,1403.2 L1607.0,1403.1 L1607.9,1402.7 L1608.9,1402.0 L1609.8,1401.2 L1610.8,1401.2 L1611.8,1401.4 L1612.9,1401.7 L1613.9,1402.0 L1614.9,1401.9 L1615.9,1401.7 L1616.8,1401.5 L1616.9,1401.3 L1618.0,1401.3 L1619.0,1401.4 L1620.1,1401.8 L1621.2,1402.1 L1622.3,1402.6 L1623.2,1403.3 L1624.2,1404.2 L1624.9,1405.2 L1625.8,1406.1 L1626.7,1406.9 L1627.8,1407.5 L1629.0,1408.0 L1630.1,1408.5 L1631.2,1409.0 L1632.0,1409.7 L1633.0,1410.2 L1634.0,1410.5 L1634.9,1410.8 L1635.1,1410.6 L1636.0,1410.8 L1636.9,1411.2 L1637.9,1411.4 L1638.9,1411.4 L1639.9,1411.1 L1641.0,1410.5 L1642.0,1410.4 L1643.0,1410.4 L1644.0,1410.5 L1645.0,1410.7 L1646.0,1410.6 L1647.0,1410.6 L1648.0,1410.8 L1649.0,1411.4 L1649.9,1412.3 L1650.8,1412.8 L1651.8,1413.4 L1652.8,1413.6 L1653.1,1413.3 L1653.8,1413.1 L1654.9,1413.0 L1656.1,1413.2 L1657.1,1413.7 L1658.0,1414.6 L1659.0,1415.3 L1659.9,1416.3 L1660.9,1417.1 L1661.9,1417.9 L1662.8,1418.9 L1663.7,1419.7 L1664.7,1420.5 L1665.7,1421.1 L1666.7,1421.6 L1667.8,1422.0 L1668.3,1422.3 L1668.7,1422.7 L1669.7,1423.1 L1670.7,1423.2 L1671.8,1423.0 L1672.8,1422.8 L1673.9,1422.6 L1674.9,1422.5 L1675.9,1422.7 L1676.9,1422.6 L1677.9,1422.6 L1678.9,1422.6 L1680.0,1422.6 L1680.9,1422.8 L1681.9,1423.0 L1682.9,1423.2 L1683.9,1423.4 L1684.9,1423.5 L1685.9,1423.2 L1686.6,1422.7 L1686.9,1422.2 L1687.8,1421.6 L1688.7,1421.4 L1689.7,1421.6 L1690.7,1422.0 L1691.8,1422.5 L1692.9,1422.8 L1694.0,1422.8 L1694.9,1422.6 L1695.9,1422.1 L1696.9,1421.7 L1697.9,1421.7 L1698.8,1421.8 L1698.9,1421.8 L1699.9,1421.9 L1701.0,1421.8 L1702.0,1422.0 L1702.9,1422.6 L1703.6,1422.7 L1703.9,1422.9 L1704.9,1423.1 L1705.9,1423.2 L1706.8,1423.7 L1707.8,1423.9 L1708.8,1424.1 L1709.8,1424.2 L1710.9,1424.0 L1711.9,1424.1 L1712.9,1424.3 L1713.9,1424.3 L1714.9,1424.5 L1715.9,1424.6 L1716.9,1424.6 L1717.9,1424.8 L1718.9,1425.0 L1719.9,1425.1 L1720.9,1425.2 L1721.9,1425.1 L1722.9,1425.2 L1723.5,1425.1 L1723.9,1425.3 L1724.9,1425.5 L1725.9,1425.4 L1727.0,1425.5 L1727.9,1425.2 L1728.9,1424.8 L1729.9,1424.6 L1730.9,1424.4 L1731.9,1424.2 L1732.9,1424.2 L1733.9,1423.9 L1734.9,1423.5 L1735.8,1423.1 L1736.8,1422.6 L1737.8,1422.3 L1738.8,1422.2 L1739.8,1422.2 L1740.9,1422.4 L1742.0,1422.6 L1743.0,1422.9 L1743.6,1423.1 L1744.1,1423.3 L1745.1,1423.1 L1746.0,1422.7 L1747.0,1422.3 L1747.9,1421.8 L1748.9,1421.4 L1749.9,1421.4 L1751.0,1421.6 L1752.0,1421.9 L1753.0,1422.3 L1754.0,1422.3 L1755.0,1421.8 L1755.9,1421.2 L1756.9,1420.5 L1757.9,1420.2 L1758.9,1420.6 L1759.4,1421.2 L1759.9,1421.9 L1760.8,1422.4 L1761.8,1422.3 L1762.8,1422.3 L1763.8,1422.2 L1764.8,1422.1 L1765.8,1422.1 L1766.8,1421.8 L1767.9,1421.6 L1768.9,1421.3 L1770.0,1421.3 L1770.9,1421.8 L1771.9,1422.2 L1772.8,1422.6 L1773.8,1422.8 L1774.9,1422.9 L1775.9,1422.7 L1776.9,1422.8 L1777.9,1422.8 L1779.0,1422.7 L1779.4,1422.8 L1780.0,1422.7 L1781.0,1422.8 L1782.0,1423.1 L1783.0,1423.1 L1784.0,1423.1 L1784.9,1423.4 L1785.9,1423.5 L1786.9,1424.0 L1787.9,1424.5 L1788.8,1424.9 L1789.8,1425.1 L1790.8,1425.1 L1791.9,1424.9 L1792.9,1424.6 L1794.0,1424.4 L1795.0,1424.4 L1796.0,1424.6 L1796.9,1424.9 L1797.2,1425.4 L1797.8,1425.8 L1798.8,1426.0 L1799.8,1426.1 L1800.8,1426.3 L1801.9,1426.5 L1802.9,1426.9 L1803.9,1427.3 L1804.9,1427.6 L1805.9,1427.9 L1806.9,1428.2 L1808.0,1428.4 L1809.0,1428.7 L1809.9,1429.2 L1810.9,1429.4 L1811.9,1429.9 L1812.9,1430.0 L1813.9,1429.9 L1814.9,1429.8 L1815.2,1429.8 L1815.9,1430.0 L1816.9,1430.4 L1817.9,1430.4 L1818.9,1430.1 L1819.9,1429.6 L1820.8,1429.0 L1821.8,1428.7 L1822.8,1428.5 L1823.8,1428.6 L1824.8,1428.5 L1825.8,1428.4 L1826.9,1428.6 L1827.9,1428.7 L1829.0,1429.1 L1830.0,1429.4 L1831.0,1429.3 L1832.0,1429.3 L1833.0,1428.8 L1833.9,1428.3 L1834.9,1428.0 L1835.1,1427.6 L1835.9,1427.4 L1837.0,1427.4 L1838.0,1427.9 L1838.9,1428.2 L1839.9,1428.6 L1840.9,1428.8 L1841.9,1428.7 L1843.0,1428.6 L1843.9,1428.8 L1844.9,1429.0 L1845.1,1429.3 L1845.9,1429.9 L1846.9,1430.0 L1848.0,1430.2 L1849.0,1430.2 L1850.0,1429.9 L1851.0,1429.8 L1852.0,1429.6 L1853.0,1429.4 L1854.0,1429.1 L1855.0,1428.7 L1855.9,1428.2 L1856.9,1427.8 L1857.9,1427.6 L1858.9,1427.5 L1859.9,1427.5 L1860.9,1427.4 L1861.9,1427.0 L1862.9,1426.9 L1863.9,1426.8 L1864.9,1427.0 L1865.0,1427.1 L1865.9,1427.0 L1866.9,1426.9 L1868.0,1426.7 L1869.0,1426.7 L1870.0,1426.9 L1871.0,1427.0 L1872.0,1427.5 L1872.9,1427.9 L1873.9,1428.3 L1874.8,1428.7 L1875.9,1428.8 L1876.9,1428.7 L1878.0,1428.8 L1879.0,1428.9 L1880.0,1429.2 L1880.9,1429.8 L1881.9,1430.1 L1882.9,1430.3 L1883.9,1430.5 L1884.9,1430.6 L1885.9,1430.8 L1886.9,1430.9 L1887.9,1431.0 L1888.9,1431.0 L1889.0,1430.9 L1890.0,1430.9 L1891.0,1430.9 L1892.0,1430.9 L1893.0,1431.1 L1894.0,1431.5 L1895.0,1431.7 L1896.0,1431.7 L1897.1,1431.5 L1898.1,1431.4 L1899.0,1431.9 L1899.9,1432.7 L1900.9,1433.4 L1901.8,1433.8 L1902.9,1433.8 L1903.9,1433.8 L1904.9,1433.7 L1905.9,1433.9 L1906.9,1434.0 L1907.9,1433.8 L1908.8,1433.7 L1908.9,1433.5 L1909.9,1433.3 L1910.9,1433.4 L1911.9,1433.5 L1912.9,1433.5 L1913.9,1433.5 L1914.9,1433.4 L1915.9,1433.3 L1916.9,1433.1 L1917.9,1432.9 L1918.9,1432.8 L1919.9,1432.9 L1921.0,1432.9 L1922.0,1432.8 L1923.0,1432.7 L1923.9,1431.9 L1924.8,1431.2 L1925.7,1430.7 L1926.7,1430.4 L1927.8,1430.7 L1928.8,1431.2 L1929.0,1431.8 L1930.1,1431.8 L1931.1,1431.5 L1932.1,1431.2 L1933.0,1430.7 L1934.1,1430.6 L1935.1,1430.6 L1936.2,1430.3 L1937.2,1430.0 L1938.1,1429.4 L1938.9,1428.6 L1939.9,1428.1 L1940.8,1427.7 L1941.8,1427.5 L1942.7,1427.6 L1942.9,1427.7 L1944.0,1427.7 L1945.0,1427.7 L1946.0,1427.4 L1946.9,1426.8 L1947.8,1426.2 L1948.8,1425.6 L1949.7,1425.2 L1950.8,1425.1 L1951.8,1425.1 L1952.9,1425.3 L1953.9,1425.3 L1954.9,1425.5 L1955.9,1425.6 L1956.6,1425.8 L1956.9,1426.2 L1957.7,1426.3 L1958.6,1426.6 L1959.5,1427.0 L1960.6,1427.1 L1961.7,1427.4 L1962.8,1428.0 L1963.9,1428.4 L1965.0,1428.9 L1965.9,1429.6 L1967.0,1430.1 L1968.0,1430.6 L1969.0,1431.1 L1969.9,1431.4 L1970.6,1431.5 L1970.9,1431.8 L1971.9,1432.2 L1972.9,1432.3 L1973.9,1432.4 L1974.9,1432.3 L1975.9,1432.1 L1977.0,1431.9 L1978.0,1431.6 L1979.0,1431.4 L1980.0,1431.2 L1980.9,1431.4 L1981.9,1431.8 L1982.5,1432.1 L1982.9,1432.2 L1983.9,1432.1 L1984.8,1431.7 L1985.7,1431.5 L1986.7,1431.3 L1987.7,1431.0 L1988.7,1430.7 L1989.7,1430.3 L1990.8,1430.0 L1991.8,1429.6 L1992.9,1429.3 L1993.9,1429.1 L1995.0,1429.0 L1996.1,1429.1 L1997.1,1429.1 L1998.0,1429.2 L1998.6,1429.0 L1998.9,1428.5 L1999.9,1428.2 L2000.9,1428.0 L2001.9,1427.8 L2002.9,1427.9 L2003.9,1427.8 L2004.9,1427.9 L2005.9,1428.3 L2006.9,1428.2 L2007.9,1428.4 L2008.9,1428.2 L2009.9,1427.9 L2010.9,1427.9 L2011.9,1427.8 L2012.9,1427.9 L2013.9,1428.1 L2014.9,1427.9 L2015.9,1427.8 L2016.9,1427.5 L2017.9,1427.2 L2018.9,1426.9 L2019.9,1426.5 L2019.9,1426.3 L2020.8,1426.1 L2021.7,1426.0 L2022.7,1426.0 L2023.7,1425.8 L2024.8,1425.6 L2025.8,1425.4 L2025.9,1425.5 L2029.0,1424.0 L2029.5,1408.0"/>
<path stroke="#00f" stroke-width="7" d="M276.2,1466.7 L277.1,1465.5 L278.0,1464.4 L278.9,1463.2 L279.7,1462.0 L280.8,1461.0 L281.8,1460.1 L282.8,1459.3 L283.9,1458.7 L284.9,1458.1 L285.9,1457.5 L287.0,1457.1 L287.9,1456.6 L288.9,1456.3 L289.9,1456.2 L289.9,1456.1 L291.0,1456.2 L292.0,1456.5 L292.9,1456.8 L293.9,1457.0 L294.9,1457.5 L295.8,1457.8 L296.8,1458.0 L297.8,1458.3 L299.0,1457.9 L300.1,1457.7 L301.1,1457.8 L302.1,1457.8 L303.0,1458.3 L304.0,1458.6 L305.0,1458.7 L305.8,1458.8 L305.9,1458.4 L306.7,1458.2 L307.6,1457.8 L308.6,1457.5 L309.8,1457.2 L311.1,1457.0 L312.3,1456.6 L313.2,1456.0 L314.1,1455.5 L315.0,1454.7 L315.8,1454.1 L315.9,1453.7 L317.0,1453.7 L318.0,1454.1 L319.0,1454.8 L319.8,1455.6 L320.7,1456.1 L321.7,1456.5 L322.7,1456.8 L323.7,1457.0 L324.8,1457.3 L325.9,1457.5 L327.0,1457.7 L328.1,1458.0 L329.1,1458.5 L330.0,1459.1 L331.0,1459.6 L332.0,1460.0 L333.0,1460.3 L334.0,1460.5 L335.0,1461.0 L336.0,1461.3 L337.0,1461.2 L338.0,1461.2 L339.0,1460.9 L339.7,1460.8 L339.9,1461.1 L340.9,1461.4 L342.0,1461.8 L343.1,1461.8 L344.2,1461.7 L345.3,1461.4 L346.3,1460.9 L347.2,1460.3 L348.1,1459.5 L349.0,1458.7 L349.9,1458.0 L350.9,1457.4 L351.9,1457.0 L353.0,1456.5 L353.9,1456.0 L354.9,1455.4 L355.9,1455.0 L356.9,1454.8 L358.0,1454.9 L359.0,1455.4 L359.6,1455.7 L359.9,1455.6 L360.8,1455.5 L361.8,1455.3 L362.9,1455.3 L363.9,1455.5 L364.9,1456.0 L365.8,1456.6 L366.7,1457.2 L367.8,1457.4 L368.9,1457.4 L369.9,1457.3 L371.0,1457.1 L371.6,1457.2 L371.9,1457.2 L372.9,1457.0 L373.9,1456.8 L375.1,1456.4 L376.2,1455.9 L377.3,1455.2 L378.3,1454.5 L379.2,1453.7 L380.1,1453.2 L381.0,1452.9 L381.5,1452.8 L381.9,1452.8 L382.9,1452.6 L384.0,1452.6 L385.0,1452.8 L386.0,1453.1 L386.9,1453.5 L387.9,1454.0 L388.9,1454.2 L389.9,1454.6 L390.9,1455.1 L391.9,1455.5 L392.8,1456.0 L393.8,1456.6 L394.7,1457.0 L395.8,1457.3 L396.8,1457.5 L397.9,1457.4 L399.0,1457.3 L399.5,1457.2 L400.0,1456.9 L401.0,1456.9 L402.1,1456.8 L403.1,1456.7 L404.1,1456.8 L405.1,1456.8 L406.0,1457.1 L407.0,1457.6 L408.0,1457.7 L409.0,1457.9 L410.0,1457.8 L410.9,1457.5 L411.4,1457.4 L411.9,1457.5 L412.9,1457.5 L413.8,1457.5 L414.8,1457.3 L415.7,1457.0 L416.8,1456.9 L417.8,1456.9 L418.9,1457.3 L420.0,1457.5 L421.0,1457.6 L422.1,1457.6 L423.0,1457.3 L424.0,1457.2 L425.0,1457.2 L425.4,1457.2 L425.9,1457.0 L426.9,1457.0 L427.9,1457.0 L428.9,1456.7 L429.9,1456.9 L430.9,1456.8 L431.9,1456.4 L432.9,1456.3 L433.9,1455.9 L434.9,1455.8 L435.9,1456.0 L436.9,1456.2 L437.9,1456.4 L438.9,1456.6 L439.3,1456.6 L439.9,1456.6 L440.9,1456.9 L441.9,1457.0 L443.0,1457.3 L443.9,1457.7 L444.9,1458.2 L445.8,1458.9 L446.8,1459.4 L447.9,1459.7 L449.0,1459.9 L450.1,1459.9 L451.1,1460.2 L452.0,1460.7 L452.9,1461.1 L453.3,1461.5 L454.0,1461.4 L454.9,1460.8 L455.9,1460.5 L456.8,1459.7 L457.7,1459.2 L458.9,1458.9 L459.9,1458.4 L460.9,1458.1 L462.0,1457.9 L462.9,1457.4 L463.2,1457.1 L463.9,1456.8 L464.9,1456.5 L465.9,1456.5 L466.9,1456.9 L467.9,1457.1 L469.0,1457.3 L470.0,1457.2 L470.9,1456.8 L471.9,1456.6 L472.9,1456.4 L473.9,1456.4 L474.9,1456.6 L475.9,1456.6 L476.9,1456.6 L477.9,1456.4 L478.9,1456.3 L479.9,1456.4 L480.9,1456.7 L481.9,1457.0 L482.9,1457.1 L483.9,1457.1 L484.9,1456.7 L485.1,1456.5 L486.0,1456.3 L487.0,1456.4 L488.0,1456.8 L489.0,1457.2 L489.9,1457.6 L490.9,1458.1 L491.9,1458.5 L492.9,1459.0 L493.8,1459.6 L494.8,1460.2 L495.7,1460.7 L496.8,1461.0 L497.9,1461.0 L498.9,1460.8 L499.1,1460.4 L499.9,1460.2 L500.8,1459.8 L501.8,1459.5 L502.9,1459.2 L504.0,1458.7 L505.0,1458.1 L506.0,1457.5 L506.9,1457.0 L507.9,1456.4 L508.9,1456.0 L509.0,1455.9 L510.0,1456.0 L511.0,1456.3 L512.0,1456.7 L512.9,1457.2 L513.9,1457.4 L514.9,1457.7 L516.0,1457.9 L517.0,1458.2 L517.9,1458.8 L518.8,1459.4 L519.8,1459.9 L520.8,1460.3 L521.9,1460.6 L522.8,1461.1 L523.8,1461.5 L524.9,1461.8 L525.9,1462.2 L526.9,1462.5 L527.9,1462.8 L528.9,1463.3 L529.9,1463.6 L530.9,1463.9 L531.9,1464.0 L532.9,1463.9 L533.0,1463.8 L533.9,1463.5 L534.9,1463.1 L535.9,1462.8 L536.9,1462.4 L537.9,1462.2 L538.8,1461.9 L539.8,1461.8 L540.8,1461.9 L541.9,1462.2 L542.9,1462.5 L543.9,1462.5 L544.9,1462.4 L545.9,1462.1 L546.9,1462.0 L547.9,1462.3 L549.0,1462.4 L550.0,1462.3 L551.0,1462.3 L552.0,1462.1 L553.0,1462.2 L554.0,1462.5 L555.0,1462.6 L556.0,1462.6 L557.0,1462.4 L557.9,1461.8 L558.9,1461.4 L558.9,1461.3 L560.0,1461.1 L560.9,1461.5 L561.9,1461.9 L562.9,1462.0 L563.9,1462.1 L565.0,1462.1 L566.1,1461.8 L567.1,1461.9 L568.1,1462.2 L569.1,1462.6 L570.0,1463.3 L570.9,1463.8 L571.9,1464.2 L572.9,1464.5 L573.8,1464.9 L574.9,1465.0 L575.9,1465.2 L576.9,1465.4 L578.0,1465.3 L579.0,1465.4 L580.0,1465.4 L581.0,1465.3 L582.0,1465.4 L582.8,1465.6 L582.9,1465.7 L584.0,1466.0 L585.0,1465.8 L586.0,1465.4 L586.9,1464.9 L587.8,1464.3 L588.7,1463.6 L589.6,1463.1 L590.6,1462.5 L591.6,1461.9 L592.7,1461.5 L593.7,1461.1 L594.8,1460.8 L595.9,1460.5 L596.9,1460.1 L597.8,1459.5 L598.8,1458.8 L599.9,1458.6 L600.7,1458.6 L601.0,1459.2 L601.9,1459.8 L602.7,1460.5 L603.5,1461.3 L604.4,1461.8 L605.3,1462.4 L606.5,1462.7 L607.8,1462.9 L609.2,1463.2 L610.3,1463.6 L611.4,1464.2 L612.4,1464.7 L613.2,1465.5 L614.1,1466.1 L615.0,1466.6 L615.9,1467.2 L616.6,1467.3 L616.9,1467.1 L617.9,1466.9 L618.9,1466.6 L619.9,1466.4 L620.8,1466.2 L621.8,1465.9 L622.7,1465.4 L623.7,1464.9 L624.7,1464.8 L625.8,1464.6 L626.9,1464.5 L628.0,1464.2 L628.9,1463.7 L629.8,1463.1 L630.8,1462.7 L631.9,1462.5 L633.0,1462.3 L634.1,1462.1 L635.1,1461.8 L635.9,1460.9 L636.7,1460.0 L637.6,1459.2 L638.6,1458.6 L639.7,1458.6 L640.8,1459.0 L641.9,1459.4 L642.5,1459.9 L642.9,1460.0 L643.9,1460.1 L644.9,1459.9 L646.0,1459.8 L647.0,1459.9 L648.0,1460.1 L648.9,1460.7 L649.9,1461.3 L650.8,1461.8 L651.7,1462.3 L652.8,1462.3 L653.8,1462.3 L654.9,1462.2 L656.0,1461.9 L657.0,1462.1 L658.0,1462.2 L658.5,1462.2 L658.9,1462.5 L659.9,1462.7 L660.9,1463.1 L661.9,1463.3 L662.9,1463.3 L663.9,1463.3 L665.0,1463.0 L666.0,1462.9 L667.0,1463.0 L668.0,1463.2 L669.0,1463.2 L670.0,1463.0 L671.0,1462.8 L672.0,1462.4 L673.0,1462.5 L674.0,1462.6 L675.0,1462.8 L675.9,1462.9 L676.4,1462.9 L676.8,1462.9 L677.7,1462.7 L678.7,1462.6 L679.8,1462.5 L679.9,1462.6 L680.9,1462.7 L682.0,1462.9 L683.0,1462.7 L684.0,1462.7 L685.0,1462.5 L686.0,1462.2 L687.0,1462.1 L688.0,1461.8 L689.0,1461.6 L690.0,1461.6 L691.0,1461.6 L692.0,1461.7 L693.0,1461.6 L694.0,1461.4 L695.0,1461.2 L696.0,1461.1 L697.0,1460.8 L697.9,1460.6 L698.9,1460.2 L699.9,1459.6 L699.9,1459.4 L701.0,1459.4 L702.0,1459.7 L703.0,1460.3 L704.0,1460.6 L705.0,1460.9 L706.0,1461.0 L707.0,1460.9 L708.0,1461.1 L709.0,1461.2 L710.0,1461.3 L711.0,1461.5 L712.0,1461.7 L713.0,1462.0 L713.9,1462.4 L714.9,1462.6 L715.9,1462.6 L715.9,1462.5 L716.9,1462.5 L717.9,1462.4 L718.9,1462.4 L719.9,1462.3 L720.9,1462.1 L721.9,1462.1 L722.9,1461.9 L723.9,1462.1 L725.0,1462.0 L725.9,1461.7 L727.0,1461.7 L727.9,1461.6 L729.0,1461.7 L730.0,1461.8 L731.0,1461.5 L732.0,1461.3 L732.9,1460.8 L733.9,1460.4 L734.9,1460.3 L735.9,1460.2 L736.9,1460.3 L737.9,1460.5 L738.9,1460.6 L739.8,1460.7 L739.9,1460.7 L740.9,1460.5 L741.9,1460.5 L742.9,1460.6 L743.9,1460.7 L744.9,1460.8 L745.9,1460.8 L746.9,1460.9 L747.9,1461.0 L749.0,1460.9 L750.0,1461.1 L751.0,1461.0 L752.0,1461.1 L753.0,1461.5 L754.0,1461.7 L754.9,1462.1 L755.9,1462.3 L757.0,1462.0 L758.1,1461.7 L759.1,1461.4 L760.1,1461.5 L761.1,1461.8 L762.0,1462.3 L763.0,1462.4 L764.0,1462.3 L765.0,1462.2 L766.0,1462.3 L767.0,1462.6 L768.0,1462.9 L768.9,1463.3 L769.7,1463.4 L769.9,1463.7 L771.0,1463.9 L772.1,1463.8 L773.2,1463.5 L774.1,1463.0 L775.1,1462.4 L776.0,1461.8 L776.9,1461.1 L777.9,1460.5 L778.7,1459.7 L779.7,1459.1 L780.8,1458.9 L781.8,1458.6 L782.9,1458.6 L783.9,1458.4 L784.6,1458.1 L785.0,1458.2 L786.0,1458.3 L787.1,1458.6 L788.1,1459.0 L789.3,1459.3 L790.3,1459.9 L791.2,1460.7 L792.1,1461.5 L792.9,1462.4 L793.9,1463.0 L794.9,1463.4 L795.9,1463.7 L797.0,1463.5 L797.6,1463.4 L797.9,1463.4 L798.8,1463.2 L799.8,1463.1 L800.8,1462.8 L801.7,1462.3 L802.7,1462.0 L803.8,1461.7 L804.8,1461.2 L805.9,1460.8 L807.0,1460.3 L808.0,1459.9 L809.2,1459.7 L810.3,1459.4 L811.3,1459.1 L812.3,1458.7 L813.1,1458.3 L814.1,1457.9 L815.0,1457.7 L815.5,1457.7 L815.9,1457.5 L816.9,1457.6 L817.9,1457.7 L818.9,1458.0 L819.8,1458.4 L820.8,1458.7 L821.9,1459.0 L822.9,1459.3 L823.9,1459.8 L824.8,1460.3 L825.7,1461.1 L826.8,1461.4 L827.3,1461.5 L827.8,1461.5 L828.9,1461.5 L829.8,1461.7 L830.8,1461.9 L831.9,1461.9 L832.9,1461.8 L833.9,1461.7 L834.9,1461.4 L835.9,1461.3 L836.9,1461.2 L837.9,1461.3 L838.9,1461.7 L839.9,1461.9 L840.9,1462.1 L841.9,1461.6 L842.9,1461.0 L843.4,1460.4 L843.9,1460.0 L844.9,1460.1 L845.9,1460.7 L846.9,1461.0 L848.0,1461.6 L849.1,1461.7 L850.1,1461.6 L851.2,1461.5 L852.1,1461.2 L853.1,1460.8 L854.1,1460.4 L855.0,1459.9 L855.9,1459.5 L856.9,1459.3 L857.9,1459.1 L858.9,1458.9 L860.0,1459.0 L861.0,1459.0 L862.0,1458.9 L862.9,1458.9 L863.3,1458.8 L863.9,1458.6 L864.9,1458.7 L865.9,1458.5 L866.9,1458.5 L867.9,1458.7 L868.9,1458.7 L869.9,1459.0 L870.9,1459.2 L871.9,1459.4 L872.9,1459.5 L873.9,1459.2 L874.9,1459.0 L875.2,1458.6 L875.9,1458.4 L876.8,1458.3 L877.9,1458.3 L879.0,1458.2 L880.0,1457.8 L881.0,1457.2 L881.9,1456.5 L882.8,1456.0 L883.9,1455.8 L884.9,1455.9 L885.2,1456.1 L885.9,1456.2 L886.9,1456.4 L887.9,1456.3 L888.9,1456.4 L889.9,1456.7 L890.9,1456.8 L891.9,1457.0 L892.8,1457.2 L893.9,1457.4 L894.9,1457.4 L895.9,1457.1 L897.0,1456.9 L898.0,1456.5 L899.0,1456.6 L900.0,1457.0 L900.9,1457.3 L901.9,1457.5 L902.9,1457.4 L903.1,1457.2 L903.9,1457.0 L904.9,1456.8 L905.8,1456.5 L906.8,1456.3 L907.8,1456.2 L908.8,1456.2 L909.8,1456.0 L910.9,1455.7 L911.8,1455.1 L912.7,1454.5 L913.7,1454.2 L914.7,1453.9 L915.8,1453.6 L916.9,1453.4 L917.9,1453.0 L918.9,1452.7 L919.9,1452.3 L920.8,1451.7 L921.8,1451.2 L922.8,1450.8 L923.8,1450.9 L924.9,1451.0 L925.9,1451.1 L926.9,1451.1 L927.1,1450.9 L928.0,1450.9 L929.0,1451.0 L930.1,1451.2 L931.1,1451.6 L932.2,1452.0 L933.2,1452.5 L934.2,1453.0 L935.1,1453.7 L936.0,1454.3 L937.0,1454.9 L937.9,1455.5 L938.9,1455.8 L939.9,1456.0 L940.9,1456.3 L941.0,1456.4 L942.0,1456.5 L943.0,1456.7 L944.0,1456.4 L945.0,1456.2 L946.0,1456.1 L947.0,1456.0 L948.1,1456.2 L949.1,1456.2 L950.1,1455.9 L951.0,1455.3 L952.0,1454.7 L952.9,1454.1 L953.9,1453.8 L954.8,1453.4 L954.8,1453.1 L955.7,1452.9 L956.6,1452.5 L957.6,1452.1 L958.8,1451.8 L959.8,1451.1 L960.9,1450.5 L961.9,1449.8 L962.7,1448.9 L963.6,1448.1 L964.6,1447.4 L965.7,1447.0 L966.9,1447.4 L966.9,1447.8 L967.9,1448.2 L968.9,1448.5 L969.9,1448.7 L970.9,1449.2 L971.9,1449.6 L973.0,1450.2 L974.0,1450.8 L975.2,1451.2 L976.3,1451.8 L977.4,1452.3 L978.4,1453.1 L979.1,1454.0 L980.0,1454.9 L980.8,1455.8 L981.8,1456.3 L982.8,1456.6 L983.9,1456.9 L984.8,1456.5 L984.9,1456.4 L985.9,1456.2 L986.8,1455.8 L987.9,1455.7 L988.9,1455.4 L989.9,1455.0 L991.0,1454.6 L992.0,1454.4 L993.0,1454.1 L994.0,1453.9 L994.8,1453.8 L994.9,1453.8 L995.9,1453.9 L996.8,1454.2 L997.8,1454.5 L998.9,1454.6 L1000.1,1454.8 L1001.1,1455.1 L1002.1,1455.5 L1003.1,1455.8 L1004.0,1456.1 L1004.8,1456.2 L1004.9,1456.2 L1005.9,1456.4 L1007.0,1456.4 L1008.0,1456.2 L1009.0,1456.0 L1010.1,1455.6 L1011.0,1455.1 L1012.0,1454.5 L1012.9,1453.9 L1013.8,1453.2 L1014.7,1452.6 L1015.7,1452.1 L1016.8,1451.9 L1017.9,1451.8 L1018.7,1452.1 L1018.9,1452.6 L1019.9,1452.8 L1020.9,1452.9 L1021.9,1452.8 L1022.9,1452.5 L1023.9,1452.4 L1024.9,1452.4 L1025.9,1452.5 L1026.9,1452.6 L1027.9,1452.7 L1028.9,1452.6 L1029.9,1452.4 L1030.9,1452.2 L1031.9,1452.1 L1032.9,1452.2 L1033.9,1452.3 L1034.6,1452.3 L1034.9,1452.2 L1035.9,1452.1 L1036.9,1452.1 L1037.9,1452.0 L1038.9,1451.9 L1039.9,1451.8 L1040.9,1451.5 L1041.9,1451.4 L1043.0,1451.2 L1044.0,1451.0 L1045.1,1450.9 L1046.1,1450.6 L1047.1,1450.1 L1048.0,1449.5 L1048.9,1448.8 L1049.7,1448.1 L1050.7,1447.6 L1051.7,1447.1 L1052.4,1447.1 L1052.8,1447.1 L1053.8,1446.6 L1054.7,1445.9 L1055.6,1445.1 L1056.5,1444.2 L1057.6,1443.5 L1058.7,1442.9 L1059.8,1442.4 L1060.9,1442.0 L1061.9,1441.6 L1062.9,1441.5 L1063.0,1441.7 L1063.9,1441.8 L1064.9,1442.1 L1065.9,1442.4 L1066.9,1442.4 L1067.9,1442.4 L1068.9,1442.5 L1069.9,1442.7 L1070.9,1443.0 L1071.9,1443.4 L1072.9,1443.6 L1073.9,1443.5 L1074.9,1443.6 L1075.2,1443.7 L1076.0,1443.4 L1077.0,1443.4 L1078.0,1443.2 L1079.0,1442.5 L1079.9,1442.1 L1080.8,1441.5 L1081.8,1441.0 L1082.9,1440.9 L1084.1,1440.8 L1085.3,1440.6 L1086.4,1440.3 L1087.3,1439.6 L1088.3,1438.8 L1089.1,1438.0 L1090.0,1437.1 L1090.2,1436.6 L1090.5,1435.9 L1091.3,1434.8 L1092.3,1433.5 L1093.4,1432.0 L1094.5,1430.5 L1095.5,1428.9 L1096.5,1427.5 L1097.5,1426.3 L1098.8,1425.7 L1099.4,1425.8 L1099.9,1426.1 L1100.9,1426.3 L1101.9,1426.3 L1102.9,1426.3 L1103.9,1426.4 L1104.9,1426.6 L1105.9,1426.8 L1106.9,1427.0 L1107.9,1426.9 L1108.9,1426.4 L1109.9,1425.9 L1110.9,1425.5 L1111.6,1425.3 L1111.9,1425.4 L1112.7,1425.4 L1113.7,1425.0 L1114.8,1424.3 L1115.9,1423.5 L1116.9,1422.4 L1117.9,1421.1 L1119.0,1420.0 L1119.9,1418.8 L1121.0,1417.7 L1122.1,1416.9 L1122.9,1416.0 L1123.7,1415.5 L1123.9,1415.4 L1124.9,1415.1 L1126.0,1415.1 L1127.0,1414.8 L1128.0,1414.5 L1128.9,1414.1 L1129.9,1413.9 L1131.0,1413.9 L1132.1,1414.0 L1133.2,1413.7 L1134.2,1413.2 L1134.5,1412.8 L1134.9,1412.2 L1135.8,1411.3 L1136.7,1410.4 L1137.7,1409.5 L1138.9,1408.6 L1140.2,1407.6 L1141.5,1406.6 L1142.6,1405.4 L1143.4,1404.1 L1144.1,1402.7 L1144.8,1401.5 L1145.7,1400.4 L1146.3,1400.0 L1146.8,1399.9 L1147.9,1399.6 L1149.0,1399.2 L1150.0,1398.8 L1151.0,1398.4 L1152.0,1398.2 L1153.0,1397.9 L1154.1,1397.6 L1155.0,1397.1 L1155.9,1396.4 L1156.8,1395.9 L1157.9,1395.5 L1159.0,1395.3 L1160.3,1395.0 L1160.8,1395.1 L1161.7,1394.6 L1162.7,1393.5 L1163.6,1392.2 L1164.4,1390.7 L1165.1,1389.1 L1165.9,1387.5 L1166.8,1385.8 L1167.8,1384.3 L1169.0,1382.8 L1169.4,1382.2 L1170.1,1381.1 L1171.1,1379.3 L1172.1,1377.2 L1173.3,1375.1 L1174.4,1372.9 L1175.4,1370.7 L1176.3,1368.6 L1177.3,1366.6 L1178.3,1364.9 L1178.8,1364.2 L1179.5,1363.6 L1180.6,1362.5 L1181.5,1361.3 L1182.3,1360.1 L1183.2,1359.0 L1184.0,1357.7 L1185.0,1356.4 L1186.0,1354.9 L1185.8,1354.7 L1186.7,1353.0 L1187.7,1350.8 L1188.6,1348.3 L1189.7,1345.7 L1190.8,1343.1 L1191.9,1340.5 L1193.2,1338.2 L1194.0,1336.8 L1194.4,1336.1 L1195.4,1334.2 L1196.2,1332.3 L1197.1,1330.5 L1198.3,1328.9 L1199.6,1327.4 L1200.9,1325.8 L1202.0,1324.0 L1202.8,1321.9 L1203.2,1320.2 L1203.0,1319.4 L1204.0,1317.2 L1205.1,1314.8 L1206.2,1312.4 L1207.4,1309.8 L1208.2,1307.0 L1209.1,1304.2 L1209.9,1301.2 L1210.8,1298.2 L1211.6,1295.6 L1211.8,1295.2 L1212.9,1292.0 L1214.0,1288.7 L1215.3,1285.2 L1216.3,1281.6 L1217.3,1277.9 L1218.3,1274.0 L1219.0,1270.1 L1219.2,1268.3 L1219.7,1266.1 L1220.6,1261.9 L1221.6,1257.6 L1222.6,1253.3 L1223.6,1248.9 L1224.7,1244.6 L1225.3,1242.5 L1226.0,1240.6 L1227.1,1236.5 L1228.0,1232.5 L1229.0,1228.6 L1229.9,1224.6 L1230.7,1220.5 L1231.2,1218.1 L1231.7,1216.6 L1232.8,1212.8 L1234.0,1209.0 L1235.1,1205.0 L1236.1,1200.7 L1236.4,1200.1 L1237.5,1196.0 L1238.7,1190.9 L1239.8,1185.4 L1240.8,1179.6 L1241.7,1173.6 L1242.6,1167.6 L1243.6,1161.5 L1244.4,1155.4 L1245.2,1149.4 L1245.0,1149.0 L1245.8,1143.5 L1246.6,1137.8 L1247.5,1132.1 L1248.4,1126.5 L1249.4,1120.9 L1250.4,1115.2 L1251.3,1109.4 L1252.3,1103.5 L1253.3,1097.4 L1254.2,1091.1 L1255.2,1084.6 L1256.3,1077.8 L1256.9,1073.9 L1257.7,1070.8 L1258.8,1063.1 L1260.0,1055.0 L1261.0,1046.6 L1261.8,1037.8 L1262.7,1028.8 L1263.6,1019.7 L1264.6,1010.7 L1265.7,1001.7 L1266.2,999.0 L1267.0,992.9 L1268.0,984.0 L1269.0,974.9 L1269.9,965.8 L1270.9,956.7 L1271.9,947.5 L1272.9,938.3 L1274.1,929.2 L1274.6,924.0 L1275.1,920.0 L1276.1,911.0 L1277.0,902.0 L1277.9,893.2 L1278.9,884.4 L1279.7,875.5 L1280.5,866.7 L1281.4,857.7 L1282.1,848.7 L1283.0,839.4 L1284.0,830.1 L1284.9,820.4 L1286.1,810.6 L1287.2,800.4 L1288.2,791.9 L1288.5,789.9 L1289.6,779.0 L1290.7,767.5 L1291.9,755.7 L1293.1,743.6 L1294.3,731.2 L1295.4,718.5 L1296.6,705.7 L1297.6,692.8 L1297.7,692.1 L1298.6,679.7 L1299.5,666.0 L1300.5,652.1 L1301.5,638.0 L1302.4,623.9 L1303.1,609.9 L1303.6,596.1 L1303.7,592.0 L1304.2,582.8 L1305.5,569.8 L1306.8,556.9 L1308.0,544.1 L1309.2,531.3 L1310.3,518.6 L1311.3,505.7 L1312.4,492.8 L1312.4,492.0 L1313.2,479.6 L1314.1,466.2 L1315.0,452.8 L1316.0,439.4 L1317.1,426.4 L1318.2,413.8 L1318.5,410.0 L1319.2,401.8 L1320.0,390.1 L1320.8,378.8 L1321.7,367.7 L1322.6,356.8 L1323.6,346.0 L1324.7,335.2 L1325.7,324.4 L1326.8,313.4 L1327.4,310.0 L1328.2,302.3 L1329.3,291.1 L1330.4,280.0 L1331.2,268.9 L1331.9,260.0 L1332.0,258.0 L1333.1,247.3 L1334.2,236.9 L1335.3,226.4 L1336.2,216.0 L1336.7,210.0 L1337.2,205.2 L1338.2,193.9 L1339.3,182.8 L1340.3,173.1 L1340.4,172.5 L1341.3,165.0 L1341.8,160.5 L1342.0,158.5 L1342.9,153.5 L1343.2,152.5 L1343.9,149.9 L1344.6,148.8 L1344.9,149.1 L1346.0,152.3 L1346.2,152.4 L1347.5,156.4 L1348.4,160.4 L1348.8,163.3 L1349.5,172.4 L1349.5,174.5 L1350.3,185.3 L1351.1,196.6 L1352.1,209.2 L1352.1,210.0 L1353.0,223.6 L1354.0,240.0 L1355.0,258.8 L1355.1,260.0 L1356.1,282.6 L1357.3,308.5 L1357.5,310.0 L1358.6,331.0 L1359.6,352.8 L1359.7,360.0 L1360.3,376.3 L1361.0,401.5 L1361.1,410.0 L1361.7,430.5 L1362.6,463.4 L1363.3,492.0 L1363.4,499.0 L1364.4,539.8 L1365.5,580.6 L1365.9,592.0 L1366.9,614.9 L1367.9,645.1 L1369.1,674.6 L1369.8,692.0 L1370.1,706.4 L1371.2,740.7 L1372.1,774.5 L1372.6,792.0 L1373.1,805.1 L1374.0,835.0 L1375.1,863.9 L1376.0,890.4 L1376.9,913.3 L1377.4,924.0 L1377.7,931.5 L1378.9,947.0 L1380.0,960.7 L1381.1,973.1 L1382.2,984.5 L1383.1,995.6 L1383.3,999.0 L1384.0,1006.4 L1384.9,1016.7 L1385.9,1026.4 L1386.8,1035.7 L1387.8,1044.8 L1388.8,1053.6 L1389.7,1062.4 L1390.7,1071.3 L1390.9,1074.0 L1391.7,1080.2 L1393.0,1089.3 L1394.2,1098.4 L1395.4,1107.4 L1396.3,1116.3 L1397.1,1124.9 L1397.9,1133.3 L1398.9,1141.2 L1400.0,1148.6 L1400.1,1149.0 L1401.0,1155.5 L1401.9,1162.0 L1402.8,1168.3 L1403.6,1174.4 L1404.6,1180.3 L1405.5,1186.0 L1406.6,1191.6 L1407.7,1197.3 L1408.0,1199.0 L1408.7,1203.0 L1409.7,1208.7 L1410.5,1214.3 L1411.6,1219.5 L1412.2,1222.9 L1412.4,1224.3 L1413.4,1229.0 L1414.4,1233.5 L1415.5,1237.8 L1416.7,1241.7 L1417.8,1245.0 L1418.7,1247.1 L1418.9,1247.6 L1419.9,1249.6 L1420.8,1251.3 L1421.7,1252.8 L1422.6,1254.2 L1423.6,1255.5 L1424.6,1256.8 L1425.7,1258.4 L1426.8,1260.5 L1427.0,1260.8 L1428.0,1263.4 L1429.0,1267.6 L1430.1,1272.1 L1431.0,1276.5 L1431.5,1279.0 L1431.6,1280.1 L1432.5,1283.2 L1433.5,1286.2 L1434.6,1289.0 L1435.8,1291.5 L1437.0,1293.9 L1438.0,1296.2 L1439.2,1298.0 L1439.5,1298.5 L1440.3,1299.7 L1441.4,1301.1 L1442.3,1302.5 L1443.3,1303.7 L1444.3,1304.9 L1445.2,1306.3 L1446.1,1307.8 L1446.8,1309.3 L1446.8,1309.6 L1447.6,1311.7 L1448.4,1314.0 L1449.3,1316.5 L1450.4,1319.0 L1451.7,1321.3 L1453.1,1323.3 L1454.5,1325.0 L1455.0,1325.6 L1455.6,1326.3 L1456.4,1327.6 L1457.3,1328.8 L1458.5,1329.7 L1459.4,1330.7 L1460.4,1331.6 L1461.2,1332.8 L1461.8,1334.2 L1462.6,1335.4 L1463.5,1336.6 L1463.9,1336.9 L1464.9,1337.6 L1466.0,1339.1 L1467.0,1340.9 L1468.0,1342.8 L1469.0,1344.7 L1470.0,1346.5 L1471.1,1348.2 L1472.1,1349.6 L1473.0,1350.9 L1473.9,1351.7 L1474.1,1351.8 L1474.9,1352.3 L1475.9,1352.6 L1476.9,1353.0 L1477.9,1353.4 L1478.9,1353.6 L1479.9,1353.7 L1480.9,1353.8 L1481.9,1353.8 L1483.0,1353.9 L1484.0,1354.3 L1484.9,1354.6 L1485.0,1354.8 L1486.1,1355.7 L1487.1,1357.1 L1488.2,1358.9 L1489.3,1360.8 L1490.3,1363.0 L1491.4,1365.0 L1492.3,1367.0 L1493.3,1368.6 L1494.1,1369.8 L1493.9,1370.2 L1494.7,1371.4 L1495.5,1372.4 L1496.5,1373.3 L1497.7,1373.8 L1498.8,1374.3 L1499.9,1374.9 L1501.1,1375.5 L1501.7,1375.9 L1502.2,1376.4 L1503.1,1377.8 L1503.8,1379.5 L1504.6,1381.3 L1505.4,1383.1 L1506.3,1384.8 L1507.4,1386.2 L1508.5,1387.2 L1509.8,1387.8 L1510.5,1387.6 L1510.9,1387.2 L1511.9,1387.1 L1512.9,1386.9 L1513.9,1386.9 L1514.9,1387.2 L1515.9,1387.4 L1516.9,1387.7 L1517.9,1387.7 L1518.9,1387.3 L1519.7,1386.9 L1520.0,1386.8 L1521.2,1387.3 L1522.2,1388.2 L1523.2,1389.2 L1524.2,1390.3 L1525.3,1391.6 L1526.3,1393.1 L1527.1,1394.7 L1528.0,1396.2 L1528.9,1397.6 L1529.9,1398.8 L1531.0,1399.6 L1532.0,1400.1 L1532.1,1400.1 L1533.2,1400.7 L1534.1,1401.3 L1535.1,1401.9 L1536.2,1402.3 L1537.1,1402.7 L1538.1,1403.0 L1539.2,1403.1 L1540.1,1403.2 L1540.9,1403.1 L1540.9,1403.0 L1541.9,1403.1 L1542.9,1403.1 L1543.9,1403.3 L1544.9,1403.6 L1545.9,1404.1 L1546.9,1404.3 L1547.9,1404.4 L1548.9,1404.3 L1549.9,1404.1 L1550.0,1404.1 L1550.9,1404.6 L1551.8,1405.9 L1552.9,1407.5 L1554.1,1409.2 L1555.3,1410.8 L1556.3,1412.0 L1556.3,1412.3 L1557.0,1413.2 L1557.9,1414.3 L1559.0,1415.1 L1560.0,1416.0 L1560.8,1417.0 L1561.7,1417.9 L1562.5,1418.9 L1563.6,1419.6 L1564.9,1419.8 L1565.2,1419.8 L1566.1,1419.4 L1567.2,1419.2 L1568.2,1418.6 L1569.1,1417.9 L1569.9,1417.2 L1570.9,1416.7 L1571.3,1416.5 L1571.9,1416.8 L1572.9,1417.2 L1573.9,1417.6 L1574.8,1418.0 L1575.8,1418.3 L1576.8,1418.4 L1577.8,1418.7 L1578.8,1418.8 L1579.9,1418.6 L1580.9,1418.7 L1582.1,1418.5 L1583.0,1418.9 L1583.3,1419.7 L1583.7,1420.2 L1584.4,1421.0 L1585.4,1421.3 L1586.7,1421.6 L1587.8,1422.2 L1588.8,1423.0 L1589.7,1423.9 L1590.7,1424.6 L1592.0,1424.9 L1593.3,1424.8 L1594.3,1424.7 L1595.2,1424.6 L1595.6,1424.8 L1595.9,1425.4 L1596.9,1425.9 L1597.9,1426.2 L1598.9,1426.5 L1599.9,1426.7 L1600.9,1426.7 L1601.9,1426.7 L1602.9,1426.6 L1603.2,1426.4 L1603.9,1426.2 L1604.9,1425.7 L1605.9,1425.3 L1606.9,1425.1 L1608.0,1424.9 L1609.2,1425.0 L1610.1,1425.3 L1610.7,1425.7 L1610.9,1425.9 L1611.6,1425.7 L1612.4,1425.7 L1613.5,1425.8 L1614.6,1426.0 L1615.7,1426.4 L1616.9,1426.7 L1618.0,1427.3 L1619.0,1427.9 L1620.0,1428.7 L1620.9,1429.3 L1621.9,1429.8 L1622.9,1430.0 L1623.0,1429.8 L1623.9,1430.2 L1624.9,1430.6 L1625.9,1431.0 L1626.8,1431.4 L1627.8,1431.6 L1628.9,1431.6 L1629.9,1431.4 L1631.0,1431.1 L1632.0,1431.1 L1633.0,1431.1 L1634.0,1431.3 L1635.0,1431.8 L1636.0,1431.9 L1636.9,1432.3 L1637.9,1432.6 L1638.1,1432.5 L1639.0,1432.5 L1640.0,1432.2 L1641.0,1431.9 L1642.0,1431.6 L1643.0,1431.3 L1644.0,1431.1 L1645.0,1431.1 L1645.6,1431.3 L1645.9,1431.5 L1646.6,1431.7 L1647.7,1431.9 L1648.9,1432.5 L1650.1,1433.4 L1651.3,1434.5 L1652.2,1435.9 L1653.2,1437.2 L1654.2,1438.5 L1655.2,1439.7 L1656.2,1440.8 L1657.0,1441.8 L1658.0,1442.4 L1659.0,1442.8 L1659.3,1442.4 L1659.9,1442.1 L1660.9,1442.0 L1661.9,1441.7 L1662.9,1441.8 L1663.9,1441.8 L1664.8,1441.6 L1665.9,1441.6 L1666.9,1441.4 L1667.9,1441.2 L1668.9,1441.4 L1669.9,1441.3 L1670.9,1441.6 L1671.5,1442.0 L1671.9,1442.1 L1672.9,1442.4 L1673.9,1442.4 L1674.9,1442.1 L1675.9,1442.0 L1676.9,1441.9 L1677.9,1441.8 L1678.9,1441.9 L1679.9,1442.0 L1680.6,1442.0 L1680.9,1442.2 L1682.0,1442.0 L1683.0,1442.0 L1684.0,1441.9 L1685.1,1441.8 L1686.1,1442.1 L1687.1,1442.5 L1688.0,1443.2 L1688.9,1443.8 L1689.9,1444.1 L1690.9,1444.3 L1691.9,1444.5 L1692.7,1444.6 L1692.9,1444.7 L1693.9,1444.8 L1694.9,1444.8 L1695.9,1444.8 L1697.0,1444.6 L1698.0,1444.6 L1698.9,1444.7 L1699.1,1444.2 L1700.3,1444.7 L1701.4,1445.1 L1702.4,1445.8 L1703.2,1446.8 L1704.1,1447.7 L1704.9,1448.6 L1705.9,1449.4 L1706.7,1450.3 L1707.8,1450.8 L1708.8,1451.2 L1709.6,1451.6 L1709.9,1451.4 L1710.9,1451.4 L1711.9,1451.2 L1712.9,1450.7 L1713.9,1450.9 L1714.9,1450.8 L1715.9,1450.8 L1716.9,1451.0 L1717.9,1450.8 L1718.9,1450.9 L1719.9,1450.8 L1720.9,1450.5 L1721.9,1450.1 L1722.9,1449.7 L1723.9,1449.9 L1724.9,1450.4 L1725.9,1451.1 L1726.9,1451.7 L1727.9,1451.7 L1728.9,1451.5 L1729.9,1451.2 L1730.9,1451.0 L1731.9,1450.9 L1732.9,1450.8 L1733.9,1450.8 L1734.9,1450.4 L1735.5,1450.1 L1736.0,1449.7 L1737.0,1449.6 L1738.0,1449.9 L1739.1,1450.1 L1740.0,1450.8 L1740.9,1451.3 L1741.9,1451.7 L1742.9,1452.1 L1743.9,1452.3 L1744.8,1452.7 L1745.8,1453.2 L1746.7,1453.8 L1747.6,1454.4 L1748.7,1454.6 L1749.2,1454.5 L1749.8,1454.2 L1750.9,1454.1 L1751.9,1454.3 L1753.0,1454.4 L1754.1,1454.5 L1755.1,1454.6 L1756.1,1454.9 L1757.0,1455.7 L1757.9,1456.4 L1758.8,1457.1 L1759.9,1457.1 L1760.9,1456.7 L1761.4,1456.2 L1761.9,1455.7 L1762.7,1455.5 L1763.7,1455.3 L1764.7,1455.0 L1765.8,1454.9 L1766.9,1454.8 L1768.1,1454.7 L1769.1,1454.5 L1770.1,1454.5 L1771.0,1454.1 L1771.4,1453.8 L1771.9,1453.6 L1773.0,1453.2 L1774.0,1453.3 L1775.0,1453.5 L1776.0,1453.7 L1776.9,1454.2 L1777.9,1454.7 L1778.9,1454.8 L1779.9,1455.0 L1780.9,1454.9 L1782.0,1454.7 L1783.0,1454.7 L1784.0,1454.5 L1785.0,1454.4 L1786.0,1454.6 L1786.9,1454.9 L1787.3,1455.4 L1787.9,1455.6 L1789.0,1455.7 L1789.9,1455.5 L1790.9,1454.9 L1791.8,1454.4 L1792.7,1453.8 L1793.7,1453.3 L1794.7,1453.2 L1795.8,1453.4 L1796.8,1453.7 L1797.9,1453.7 L1798.9,1453.5 L1799.8,1453.0 L1800.8,1452.5 L1801.9,1452.5 L1802.9,1452.6 L1803.2,1453.1 L1803.9,1453.5 L1804.9,1453.8 L1805.9,1454.1 L1806.9,1454.3 L1807.9,1454.3 L1809.0,1454.4 L1810.0,1454.6 L1811.0,1455.0 L1811.1,1455.3 L1811.8,1455.9 L1812.7,1456.3 L1813.7,1456.6 L1814.8,1456.9 L1815.9,1457.1 L1816.9,1457.7 L1817.8,1458.3 L1818.7,1459.1 L1819.6,1459.8 L1820.7,1460.1 L1821.8,1460.1 L1822.9,1459.8 L1823.2,1459.5 L1823.9,1459.5 L1824.9,1459.5 L1826.0,1459.7 L1827.0,1459.9 L1828.0,1459.7 L1829.0,1459.7 L1830.0,1459.5 L1831.0,1459.1 L1832.0,1459.0 L1833.0,1458.8 L1834.0,1458.7 L1834.9,1458.4 L1835.9,1457.9 L1836.9,1457.4 L1837.8,1456.8 L1838.9,1456.8 L1839.9,1457.2 L1840.9,1457.5 L1841.1,1458.0 L1841.9,1457.9 L1843.0,1457.7 L1844.0,1457.7 L1845.0,1457.7 L1846.0,1457.8 L1847.0,1457.8 L1848.1,1457.7 L1849.1,1457.8 L1850.1,1457.9 L1851.1,1458.1 L1852.0,1458.6 L1853.0,1458.6 L1854.0,1458.7 L1855.0,1458.9 L1856.0,1459.0 L1857.0,1459.5 L1857.9,1459.8 L1858.9,1460.0 L1859.0,1460.1 L1860.0,1460.0 L1861.0,1459.9 L1862.0,1459.6 L1862.9,1459.1 L1863.9,1458.6 L1864.9,1458.0 L1865.8,1457.5 L1866.8,1457.0 L1867.8,1456.5 L1868.7,1455.8 L1869.7,1455.4 L1870.8,1455.0 L1871.9,1454.8 L1872.9,1454.7 L1873.9,1454.6 L1874.9,1454.7 L1875.0,1454.5 L1875.9,1454.4 L1877.0,1454.3 L1878.0,1454.1 L1879.0,1454.1 L1880.0,1454.0 L1881.0,1454.0 L1882.0,1454.2 L1883.0,1454.2 L1884.0,1454.3 L1885.0,1454.4 L1886.0,1454.5 L1887.0,1454.6 L1888.0,1454.8 L1889.0,1455.0 L1890.0,1455.4 L1890.9,1455.9 L1891.9,1456.1 L1892.9,1456.1 L1892.9,1456.0 L1893.9,1455.7 L1894.9,1455.7 L1895.9,1455.8 L1896.9,1455.8 L1897.9,1456.0 L1898.9,1455.8 L1899.9,1455.7 L1900.9,1455.6 L1901.9,1455.5 L1902.9,1455.5 L1903.9,1455.4 L1904.9,1455.3 L1905.9,1454.9 L1906.8,1454.8 L1906.9,1454.8 L1908.0,1455.0 L1909.0,1455.4 L1909.9,1455.7 L1910.9,1455.9 L1911.9,1456.3 L1912.9,1456.7 L1913.8,1457.0 L1914.8,1457.4 L1915.9,1457.5 L1917.0,1457.4 L1918.0,1457.7 L1919.1,1457.7 L1920.0,1458.0 L1921.0,1458.5 L1922.0,1458.8 L1922.9,1459.2 L1923.9,1459.4 L1925.0,1459.2 L1926.0,1459.0 L1926.8,1458.8 L1926.9,1459.1 L1927.9,1459.4 L1929.0,1459.7 L1930.0,1459.8 L1930.9,1459.3 L1931.9,1459.0 L1932.9,1458.7 L1933.9,1458.4 L1934.9,1458.3 L1935.9,1458.1 L1936.9,1458.0 L1937.9,1458.1 L1939.0,1458.2 L1940.0,1458.1 L1941.0,1457.9 L1941.9,1457.3 L1942.9,1456.8 L1943.9,1456.4 L1944.9,1456.2 L1945.9,1456.2 L1946.6,1456.0 L1946.9,1455.9 L1947.9,1455.9 L1948.9,1455.9 L1949.9,1456.1 L1950.9,1456.0 L1951.9,1455.5 L1952.9,1455.0 L1953.8,1454.4 L1954.8,1454.2 L1955.8,1454.3 L1956.8,1454.4 L1957.9,1454.7 L1958.9,1454.6 L1959.9,1454.5 L1960.9,1454.7 L1961.9,1454.7 L1963.0,1454.9 L1964.0,1455.0 L1964.9,1454.8 L1965.9,1454.6 L1966.6,1454.4 L1966.9,1454.4 L1967.9,1454.5 L1968.9,1454.8 L1969.9,1455.1 L1970.9,1455.3 L1971.8,1455.6 L1972.8,1455.9 L1973.8,1456.2 L1974.7,1456.6 L1975.8,1456.7 L1976.8,1456.8 L1977.9,1456.9 L1979.0,1456.7 L1980.1,1456.5 L1981.2,1456.3 L1982.2,1456.3 L1983.2,1456.7 L1984.1,1457.3 L1985.0,1458.0 L1985.9,1458.6 L1986.9,1458.9 L1987.9,1459.1 L1988.5,1459.2 L1989.0,1459.1 L1990.0,1459.0 L1991.0,1458.8 L1992.0,1458.6 L1993.0,1458.6 L1994.1,1458.6 L1995.2,1458.5 L1996.2,1458.3 L1997.1,1457.7 L1997.9,1456.8 L1998.8,1456.1 L1999.7,1455.5 L2000.8,1455.3 L2001.9,1455.5 L2003.0,1455.6 L2004.1,1455.6 L2005.1,1455.2 L2006.0,1454.5 L2006.9,1454.0 L2007.9,1453.8 L2009.0,1453.9 L2010.0,1453.9 L2011.0,1453.8 L2011.9,1453.5 L2012.4,1453.2 L2013.0,1453.3 L2013.9,1453.7 L2014.9,1454.0 L2015.9,1454.3 L2017.0,1454.4 L2018.0,1454.4 L2019.0,1454.5 L2019.9,1454.6 L2020.0,1454.6 L2020.8,1454.7 L2021.8,1453.9 L2022.8,1452.9 L2023.9,1452.0 L2023.9,1451.9 L2024.8,1451.0 L2025.7,1450.0 L2026.5,1449.0 L2027.4,1448.0 L2028.5,1447.1 L2029.2,1446.7"/>
</g>
<g fill="none" stroke-linecap="round" shape-rendering="crispEdges">
<path stroke="#00f" stroke-width="8" d="M295,126 H441"/>
<path stroke="#f00" stroke-width="8" d="M295,224.5 H441"/>
<path stroke="#000" stroke-width="5.5" d="M295,304 H441"/>
</g>
<g font-family="'Liberation Sans', sans-serif" fill="#000" style="font-kerning:none" font-kerning="none">
<text transform="translate(457.5,148.0) scale(1,1.042)" font-size="65" text-anchor="start">PEV/ Sb<tspan font-size="38" dy="21.4">2</tspan><tspan dy="-21.4">O</tspan><tspan font-size="38" dy="21.4">3</tspan></text>
<text transform="translate(457.5,246.0) scale(1,1.042)" font-size="65" text-anchor="start">PEV/TIS</text>
<text transform="translate(457.5,325.5) scale(1,1.042)" font-size="65" text-anchor="start">PEV/TBT</text>
<text transform="translate(275.5,1580.0) scale(1,1.040)" font-size="57" text-anchor="middle" letter-spacing="0.4">100</text>
<text transform="translate(626.6,1580.0) scale(1,1.040)" font-size="57" text-anchor="middle" letter-spacing="0.4">200</text>
<text transform="translate(977.7,1580.0) scale(1,1.040)" font-size="57" text-anchor="middle" letter-spacing="0.4">300</text>
<text transform="translate(1328.8,1580.0) scale(1,1.040)" font-size="57" text-anchor="middle" letter-spacing="0.4">400</text>
<text transform="translate(1679.9,1580.0) scale(1,1.040)" font-size="57" text-anchor="middle" letter-spacing="0.4">500</text>
<text transform="translate(2031.0,1580.0) scale(1,1.040)" font-size="57" text-anchor="middle" letter-spacing="0.4">600</text>
<text transform="translate(230.0,1506.6) scale(1,1.040)" font-size="57" text-anchor="end" letter-spacing="0.4">0.0</text>
<text transform="translate(230.0,1221.2) scale(1,1.040)" font-size="57" text-anchor="end" letter-spacing="0.4">0.2</text>
<text transform="translate(230.0,935.8) scale(1,1.040)" font-size="57" text-anchor="end" letter-spacing="0.4">0.4</text>
<text transform="translate(230.0,650.4) scale(1,1.040)" font-size="57" text-anchor="end" letter-spacing="0.4">0.6</text>
<text transform="translate(230.0,365.0) scale(1,1.040)" font-size="57" text-anchor="end" letter-spacing="0.4">0.8</text>
<text transform="translate(230.0,79.6) scale(1,1.040)" font-size="57" text-anchor="end" letter-spacing="0.4">1.0</text>
<text transform="translate(1182.5,1686.0) scale(1,1.000)" font-size="71.6" text-anchor="middle" font-weight="bold">Temperature (<tspan font-size="43" dy="-35.4" dx="1">o</tspan><tspan dy="35.4">C)</tspan></text>
<text transform="translate(85.0,775.0) rotate(-90) scale(1,1.000)" font-size="71.6" text-anchor="middle" font-weight="bold">Relative intensity</text>
</g>
</svg>
</body></html>
